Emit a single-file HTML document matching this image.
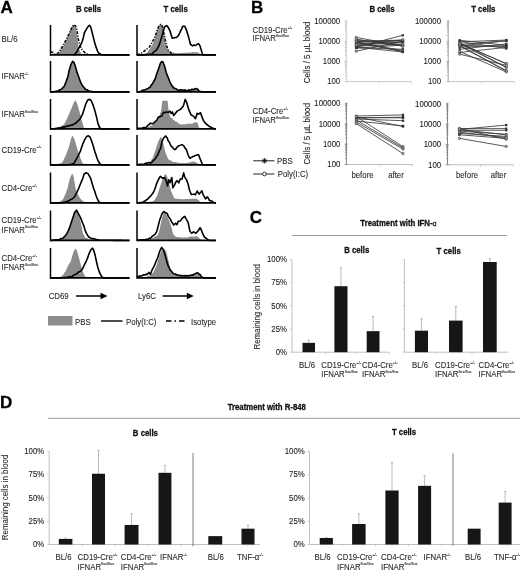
<!DOCTYPE html>
<html><head><meta charset="utf-8"><style>
html,body{margin:0;padding:0;background:#fff;}
svg{display:block;font-family:"Liberation Sans", sans-serif;filter:blur(0.3px);}
text{stroke:currentColor;stroke-width:0.1px;}
text[font-weight="bold"]{stroke-width:0.28px;}
</style></head><body>
<svg width="520" height="572" viewBox="0 0 520 572">
<rect width="520" height="572" fill="#fff"/>
<text x="0.4" y="12.7" font-size="17" font-weight="bold" text-anchor="start" fill="#000" color="#000" >A</text>
<text x="251.0" y="12.7" font-size="17" font-weight="bold" text-anchor="start" fill="#000" color="#000" >B</text>
<text x="249.8" y="222.5" font-size="17" font-weight="bold" text-anchor="start" fill="#000" color="#000" >C</text>
<text x="0.0" y="408.2" font-size="17" font-weight="bold" text-anchor="start" fill="#000" color="#000" >D</text>
<text transform="translate(88.5,12) scale(0.91,1)" font-size="8.56" font-weight="bold" text-anchor="middle" fill="#111" color="#111" >B cells</text>
<text transform="translate(175.6,12) scale(0.91,1)" font-size="8.56" font-weight="bold" text-anchor="middle" fill="#111" color="#111" >T cells</text>
<text transform="translate(1.5,42) scale(0.92,1)" font-size="8.50" font-weight="normal" text-anchor="start" fill="#2a2a2a" color="#2a2a2a" >BL/6</text>
<text transform="translate(1.5,79) scale(0.92,1)" font-size="8.50" font-weight="normal" text-anchor="start" fill="#2a2a2a" color="#2a2a2a" >IFNAR<tspan font-size="4.2" dy="-4.2">-/-</tspan></text>
<text transform="translate(1.5,117) scale(0.92,1)" font-size="8.50" font-weight="normal" text-anchor="start" fill="#2a2a2a" color="#2a2a2a" >IFNAR<tspan font-size="4.2" dy="-4.2">flox/flox</tspan></text>
<text transform="translate(1.5,152.6) scale(0.92,1)" font-size="8.50" font-weight="normal" text-anchor="start" fill="#2a2a2a" color="#2a2a2a" >CD19-Cre<tspan font-size="4.2" dy="-4.2">+/-</tspan></text>
<text transform="translate(1.5,191) scale(0.92,1)" font-size="8.50" font-weight="normal" text-anchor="start" fill="#2a2a2a" color="#2a2a2a" >CD4-Cre<tspan font-size="4.2" dy="-4.2">+/-</tspan></text>
<text transform="translate(1.5,223.4) scale(0.92,1)" font-size="8.50" font-weight="normal" text-anchor="start" fill="#2a2a2a" color="#2a2a2a" >CD19-Cre<tspan font-size="4.2" dy="-4.2">+/-</tspan></text>
<text transform="translate(1.5,232.5) scale(0.92,1)" font-size="8.50" font-weight="normal" text-anchor="start" fill="#2a2a2a" color="#2a2a2a" >IFNAR<tspan font-size="4.2" dy="-4.2">flox/flox</tspan></text>
<text transform="translate(1.5,261) scale(0.92,1)" font-size="8.50" font-weight="normal" text-anchor="start" fill="#2a2a2a" color="#2a2a2a" >CD4-Cre<tspan font-size="4.2" dy="-4.2">+/-</tspan></text>
<text transform="translate(1.5,270) scale(0.92,1)" font-size="8.50" font-weight="normal" text-anchor="start" fill="#2a2a2a" color="#2a2a2a" >IFNAR<tspan font-size="4.2" dy="-4.2">flox/flox</tspan></text>
<polygon points="50.50,55.00 51.60,54.90 52.70,54.80 53.80,54.70 54.90,54.60 56.00,54.50 57.25,53.88 58.50,53.26 59.75,51.86 61.00,49.70 62.25,48.03 63.50,45.91 64.75,43.19 66.00,41.01 67.25,37.68 68.50,34.95 69.50,31.95 70.50,29.21 71.65,27.00 72.80,24.83 74.50,25.24 76.00,28.81 77.00,35.09 78.00,42.81 79.00,49.05 80.50,52.43 82.00,54.33 83.00,54.50 84.00,55.00" fill="#8c8c8c" stroke="none"/>
<polyline points="50.50,52.50 51.50,52.00 53.00,52.50 54.50,54.00 57.00,54.00 60.40,50.00 63.00,45.50 65.60,40.70 67.70,36.50 69.70,32.40 71.80,28.00 73.90,24.60 75.50,26.00 76.50,28.20 77.30,32.50 78.00,37.60 79.00,42.00 80.00,45.90 82.00,49.50 84.30,52.10 86.30,53.70 88.00,54.50" fill="none" stroke="#111" stroke-width="1.6" stroke-dasharray="3,1.4,1.2,1.4"/>
<polyline points="73.00,55.00 74.00,54.60 75.00,54.20 76.00,52.58 77.00,51.72 78.00,49.62 79.00,47.79 80.50,45.27 82.20,41.59 83.30,37.69 84.30,33.21 85.30,31.05 86.30,29.38 87.40,27.42 88.40,26.23 89.50,25.34 90.30,26.24 91.00,28.02 91.80,31.11 92.60,34.46 93.60,38.39 94.70,42.85 95.70,45.97 96.70,48.88 97.80,51.68 98.80,53.32 99.85,53.65 100.90,54.40 101.95,54.70 103.00,55.00 104.02,55.00 105.04,55.00 106.06,55.00 107.08,55.00 108.10,55.00 109.12,55.00 110.13,55.00 111.15,55.00 112.17,55.00 113.19,55.00 114.21,55.00 115.23,55.00 116.25,55.00 117.27,55.00 118.29,55.00 119.31,55.00 120.33,55.00 121.35,55.00 122.37,55.00 123.38,55.00 124.40,55.00 125.42,55.00 126.44,55.00 127.46,55.00 128.48,55.00 129.50,55.00" fill="none" stroke="#000" stroke-width="1.6" stroke-linejoin="round"/>
<line x1="50.5" y1="25" x2="50.5" y2="55.8" stroke="#000" stroke-width="1.5"/>
<line x1="50.5" y1="54.9" x2="129.5" y2="54.9" stroke="#000" stroke-width="1.9"/>
<polygon points="137.00,55.00 138.00,54.92 139.00,54.83 140.00,54.75 141.00,54.67 142.00,54.58 143.00,54.50 144.10,53.95 145.20,53.32 146.30,52.96 147.40,52.26 148.70,50.15 150.00,48.84 151.30,46.38 152.60,44.74 154.20,40.18 155.70,35.26 157.00,30.99 158.30,26.88 159.80,24.72 160.85,25.04 161.90,25.15 163.50,30.56 164.20,34.87 165.00,40.84 166.00,45.07 167.10,49.06 168.13,50.00 169.17,51.30 170.20,52.41 171.40,52.31 172.60,52.66 173.80,52.47 175.00,53.14 176.00,53.10 177.00,53.35 178.00,53.23 179.00,52.85 180.00,52.92 181.00,53.12 182.00,52.67 183.00,52.97 184.00,52.77 185.00,52.73 186.00,52.59 187.00,52.99 188.00,52.44 189.00,52.42 190.00,52.42 191.00,52.66 192.00,52.01 193.00,52.14 194.00,52.08 195.00,52.19 196.00,52.02 197.00,52.40 198.00,52.34 199.00,53.19 200.00,53.90 201.00,55.00" fill="#8c8c8c" stroke="none"/>
<polyline points="137.00,54.50 140.00,54.00 143.20,52.10 146.00,49.50 149.50,46.90 151.50,43.50 153.60,39.70 155.00,36.50 156.20,33.40 157.50,29.50 158.80,26.20 160.90,24.10 162.40,26.20 163.50,31.00 164.50,36.50 165.50,41.00 166.60,45.90 168.20,50.00 171.30,53.20 174.00,54.50" fill="none" stroke="#111" stroke-width="1.6" stroke-dasharray="3,1.4,1.2,1.4"/>
<polyline points="137.00,55.00 138.00,54.98 139.00,54.95 140.00,54.92 141.00,54.90 142.00,54.88 143.00,54.85 144.00,54.82 145.00,54.80 146.00,54.68 147.00,54.56 148.00,54.44 149.00,54.32 150.00,54.20 151.30,54.08 152.60,53.66 153.62,52.05 154.65,51.28 155.67,50.53 156.70,49.73 158.00,47.38 159.30,44.89 160.35,41.46 161.40,38.10 163.00,32.32 164.50,27.07 165.55,26.22 166.60,25.55 168.20,27.39 169.20,29.27 170.20,31.42 171.25,35.13 172.30,38.15 173.90,38.00 175.20,37.58 176.50,37.37 177.50,36.55 178.50,35.39 179.55,33.30 180.60,30.90 181.65,29.13 182.70,26.26 183.75,26.27 184.80,26.41 185.80,28.66 186.80,31.14 187.85,34.50 188.90,38.10 190.50,44.45 191.50,45.00 192.50,45.86 194.00,45.03 195.00,45.62 196.00,45.11 197.30,44.15 198.60,43.75 200.00,45.85 201.35,50.36 202.70,55.00 203.72,55.00 204.75,55.00 205.77,55.00 206.79,55.00 207.82,55.00 208.84,55.00 209.86,55.00 210.88,55.00 211.91,55.00 212.93,55.00 213.95,55.00 214.98,55.00 216.00,55.00" fill="none" stroke="#000" stroke-width="1.6" stroke-linejoin="round"/>
<line x1="137" y1="25" x2="137" y2="55.8" stroke="#000" stroke-width="1.5"/>
<line x1="137" y1="54.9" x2="216" y2="54.9" stroke="#000" stroke-width="1.9"/>
<polygon points="50.50,92.00 51.62,91.88 52.75,91.75 53.88,91.62 55.00,91.50 56.00,90.90 57.00,91.08 58.00,90.85 59.00,90.14 60.00,89.82 61.00,89.21 62.00,88.39 63.00,87.72 64.00,86.84 65.00,84.73 66.00,81.76 67.00,78.67 68.00,76.32 69.00,71.02 70.00,67.25 71.00,64.03 72.60,60.67 74.00,62.52 75.50,67.33 77.00,72.75 78.00,75.39 79.00,77.83 80.00,80.41 81.00,82.77 82.25,85.19 83.50,87.02 84.75,88.45 86.00,89.38 87.00,89.73 88.00,90.57 89.00,91.11 90.00,91.20 91.00,91.36 92.00,91.52 93.00,91.68 94.00,91.84 95.00,92.00" fill="#8c8c8c" stroke="none"/>
<polyline points="50.50,92.00 51.62,91.88 52.75,91.75 53.88,91.62 55.00,91.50 56.00,91.38 57.00,91.02 58.00,90.69 59.00,90.31 60.00,89.67 61.00,89.51 62.00,88.58 63.00,87.55 64.00,86.72 65.00,84.37 66.00,81.86 67.00,79.12 68.00,76.27 69.00,70.97 70.00,67.76 71.00,64.29 72.60,61.27 74.00,62.42 75.50,66.83 77.00,72.34 78.00,75.07 79.00,77.82 80.00,80.57 81.00,83.24 82.25,85.20 83.50,86.99 84.75,88.34 86.00,89.68 87.00,89.68 88.00,90.45 89.00,91.02 90.00,91.20 91.00,91.36 92.00,91.52 93.00,91.68 94.00,91.84 95.00,92.00 96.01,92.00 97.03,92.00 98.04,92.00 99.06,92.00 100.07,92.00 101.09,92.00 102.10,92.00 103.12,92.00 104.13,92.00 105.15,92.00 106.16,92.00 107.18,92.00 108.19,92.00 109.21,92.00 110.22,92.00 111.24,92.00 112.25,92.00 113.26,92.00 114.28,92.00 115.29,92.00 116.31,92.00 117.32,92.00 118.34,92.00 119.35,92.00 120.37,92.00 121.38,92.00 122.40,92.00 123.41,92.00 124.43,92.00 125.44,92.00 126.46,92.00 127.47,92.00 128.49,92.00 129.50,92.00" fill="none" stroke="#000" stroke-width="1.6" stroke-linejoin="round"/>
<line x1="50.5" y1="61" x2="50.5" y2="92.8" stroke="#000" stroke-width="1.5"/>
<line x1="50.5" y1="91.9" x2="129.5" y2="91.9" stroke="#000" stroke-width="1.9"/>
<polygon points="137.00,92.00 138.00,91.83 139.00,91.67 140.00,91.50 141.23,91.20 142.47,90.68 143.70,89.98 144.80,89.44 145.90,89.54 147.00,88.88 148.00,88.54 149.00,88.00 150.00,86.93 151.00,85.60 152.00,84.65 153.00,83.16 154.00,80.77 155.00,78.74 156.00,75.76 157.00,73.28 158.00,70.21 159.00,66.75 160.50,63.23 161.80,61.84 163.00,62.11 164.50,65.90 166.30,72.53 168.00,76.74 169.00,79.16 170.00,82.33 171.00,83.85 172.00,85.52 173.20,87.05 174.40,87.95 175.60,88.93 176.80,89.56 178.00,89.80 179.00,89.90 180.00,90.00 181.00,90.03 182.00,90.35 183.00,90.19 184.00,90.37 185.00,90.24 186.00,90.69 187.00,90.20 188.00,90.17 189.00,90.16 190.00,90.28 191.00,89.69 192.00,89.79 193.00,89.25 194.00,89.02 195.00,88.77 196.00,88.16 197.00,88.96 198.00,89.28 199.00,90.15 200.00,91.50 201.00,91.62 202.00,91.75 203.00,91.88 204.00,92.00" fill="#8c8c8c" stroke="none"/>
<polyline points="137.00,92.00 138.00,91.83 139.00,91.67 140.00,91.50 141.23,91.30 142.47,90.17 143.70,89.97 144.80,89.89 145.90,89.39 147.00,88.83 148.00,88.35 149.00,87.72 150.00,87.28 151.00,85.27 152.00,84.39 153.00,82.75 154.00,80.78 155.00,79.27 156.00,76.01 157.00,73.06 158.00,70.26 159.00,67.41 160.50,62.94 161.80,61.61 163.00,62.01 164.50,66.01 166.30,72.69 168.00,76.95 169.00,79.53 170.00,81.98 171.00,84.19 172.00,85.70 173.20,87.13 174.40,88.44 175.60,88.43 176.80,89.39 178.00,90.44 179.00,90.41 180.00,89.78 181.00,89.84 182.00,90.23 183.00,89.93 184.00,90.17 185.00,90.07 186.00,90.57 187.00,90.58 188.00,90.60 189.00,89.75 190.00,90.22 191.00,89.91 192.00,89.14 193.00,89.63 194.00,89.47 195.00,88.47 196.00,88.95 197.00,88.90 198.00,89.49 199.00,90.99 200.00,91.50 201.00,91.62 202.00,91.75 203.00,91.88 204.00,92.00 205.00,92.00 206.00,92.00 207.00,92.00 208.00,92.00 209.00,92.00 210.00,92.00 211.00,92.00 212.00,92.00 213.00,92.00 214.00,92.00 215.00,92.00 216.00,92.00" fill="none" stroke="#000" stroke-width="1.6" stroke-linejoin="round"/>
<line x1="137" y1="61" x2="137" y2="92.8" stroke="#000" stroke-width="1.5"/>
<line x1="137" y1="91.9" x2="216" y2="91.9" stroke="#000" stroke-width="1.9"/>
<polygon points="50.50,129.00 51.62,128.75 52.75,128.50 53.88,128.25 55.00,128.23 56.00,127.56 57.00,127.55 58.00,127.41 59.00,127.09 60.00,126.79 61.05,126.20 62.10,125.81 63.15,124.64 64.20,124.34 65.60,121.61 67.00,118.66 68.00,116.38 69.00,114.09 70.60,110.51 72.50,105.70 74.00,102.34 75.50,100.20 77.00,103.33 78.25,107.22 79.50,111.84 80.50,115.18 81.50,119.20 83.00,124.84 84.30,128.50 86.00,129.00" fill="#8c8c8c" stroke="none"/>
<polyline points="50.50,129.00 51.60,128.90 52.70,128.80 53.80,128.70 54.90,128.60 56.00,128.50 57.00,128.33 58.00,127.94 59.00,127.95 60.00,128.08 61.00,127.86 62.00,127.36 63.00,127.04 64.00,127.25 65.00,126.79 66.00,126.62 67.00,126.00 68.00,125.73 69.00,125.86 70.00,125.46 71.00,124.99 72.00,125.26 73.00,124.58 74.00,124.18 75.00,123.25 76.00,123.21 77.08,121.64 78.15,121.02 79.22,119.67 80.30,118.50 81.40,116.33 82.50,114.26 84.30,108.86 85.50,104.78 86.80,101.72 88.00,99.84 89.70,99.37 91.00,100.30 92.00,102.48 93.00,104.82 94.80,110.39 96.50,116.88 98.00,123.66 99.50,127.37 101.30,129.00 102.31,129.00 103.31,129.00 104.32,129.00 105.33,129.00 106.34,129.00 107.34,129.00 108.35,129.00 109.36,129.00 110.36,129.00 111.37,129.00 112.38,129.00 113.39,129.00 114.39,129.00 115.40,129.00 116.41,129.00 117.41,129.00 118.42,129.00 119.43,129.00 120.44,129.00 121.44,129.00 122.45,129.00 123.46,129.00 124.46,129.00 125.47,129.00 126.48,129.00 127.49,129.00 128.49,129.00 129.50,129.00" fill="none" stroke="#000" stroke-width="1.6" stroke-linejoin="round"/>
<line x1="50.5" y1="99" x2="50.5" y2="129.8" stroke="#000" stroke-width="1.5"/>
<line x1="50.5" y1="128.9" x2="129.5" y2="128.9" stroke="#000" stroke-width="1.9"/>
<polygon points="137.00,129.00 138.00,128.93 139.00,128.87 140.00,128.80 141.00,128.73 142.00,128.67 143.00,128.60 144.10,128.38 145.20,128.15 146.30,127.70 147.40,127.59 148.44,126.82 149.48,126.45 150.52,125.74 151.56,125.70 152.60,125.04 153.62,123.78 154.65,122.98 155.67,122.30 156.70,120.72 157.75,119.12 158.80,116.75 159.85,114.20 160.90,111.83 161.70,105.93 162.40,100.70 163.70,100.73 165.00,100.84 166.30,100.49 167.60,100.93 168.20,106.54 168.70,111.70 170.20,116.73 171.23,117.73 172.27,118.55 173.30,119.64 174.37,120.30 175.43,121.47 176.50,121.83 177.53,122.43 178.57,123.04 179.60,124.24 180.68,124.41 181.75,124.42 182.82,124.30 183.90,124.42 185.05,124.23 186.20,124.12 187.35,123.69 188.50,123.66 189.65,123.41 190.80,123.77 191.95,123.66 193.10,123.23 194.50,122.37 195.90,122.23 197.70,122.67 198.60,126.40 199.50,128.30 200.50,129.00" fill="#8c8c8c" stroke="none"/>
<polyline points="137.00,128.20 138.04,128.20 139.08,128.20 140.12,128.20 141.16,128.20 142.20,128.20 143.22,127.60 144.25,127.62 145.28,127.43 146.30,127.20 147.60,125.69 148.90,124.60 150.50,123.15 151.55,123.58 152.60,123.71 153.65,123.18 154.70,122.18 155.70,121.12 156.70,120.26 158.30,117.11 159.80,116.86 160.85,116.27 161.90,115.88 163.50,112.21 165.00,112.75 166.60,111.87 168.20,112.52 169.70,110.98 171.30,113.44 172.30,111.85 173.70,115.56 175.50,113.20 177.40,110.88 179.20,110.13 181.10,108.77 182.25,107.19 183.40,105.86 185.20,99.42 186.60,102.25 188.00,107.12 189.40,111.20 191.20,115.13 192.35,115.61 193.50,116.13 195.40,118.66 197.20,113.37 198.60,114.13 200.50,112.74 201.90,116.61 203.20,120.17 205.10,122.94 206.50,124.25 207.90,125.22 209.25,126.44 210.60,126.94 211.83,127.62 213.07,128.26 214.30,128.80 216.00,129.00" fill="none" stroke="#000" stroke-width="1.6" stroke-linejoin="round"/>
<line x1="137" y1="99" x2="137" y2="129.8" stroke="#000" stroke-width="1.5"/>
<line x1="137" y1="128.9" x2="216" y2="128.9" stroke="#000" stroke-width="1.9"/>
<polygon points="50.50,165.00 51.60,164.90 52.70,164.80 53.80,164.70 54.90,164.60 56.00,164.50 57.00,164.25 58.00,164.13 59.00,163.74 60.00,163.15 61.25,162.96 62.50,162.17 63.75,159.50 65.00,157.02 66.20,154.31 67.40,151.10 68.45,148.37 69.50,144.83 71.00,138.70 72.60,135.84 74.00,138.16 75.15,141.29 76.30,145.17 78.00,151.33 79.15,154.40 80.30,157.72 82.00,161.99 83.15,163.38 84.30,164.50 86.00,165.00" fill="#8c8c8c" stroke="none"/>
<polyline points="50.50,165.00 51.54,165.00 52.57,165.00 53.61,165.00 54.64,165.00 55.68,165.00 56.71,165.00 57.75,165.00 58.79,165.00 59.82,165.00 60.86,165.00 61.89,165.00 62.93,165.00 63.96,165.00 65.00,165.00 66.00,164.90 67.00,164.80 68.00,164.70 69.00,164.60 70.00,164.50 71.27,164.33 72.53,163.90 73.80,163.59 74.90,161.50 76.00,159.79 77.00,157.85 78.00,156.15 79.15,153.58 80.30,151.44 81.40,147.91 82.50,144.74 83.50,142.36 84.50,140.10 85.50,138.37 86.50,136.61 88.40,135.87 90.00,137.01 91.00,139.48 92.00,141.98 93.40,146.47 94.80,151.64 95.90,154.52 97.00,158.29 98.35,161.26 99.70,163.71 100.85,164.50 102.00,165.00 103.02,165.00 104.04,165.00 105.06,165.00 106.07,165.00 107.09,165.00 108.11,165.00 109.13,165.00 110.15,165.00 111.17,165.00 112.19,165.00 113.20,165.00 114.22,165.00 115.24,165.00 116.26,165.00 117.28,165.00 118.30,165.00 119.31,165.00 120.33,165.00 121.35,165.00 122.37,165.00 123.39,165.00 124.41,165.00 125.43,165.00 126.44,165.00 127.46,165.00 128.48,165.00 129.50,165.00" fill="none" stroke="#000" stroke-width="1.6" stroke-linejoin="round"/>
<line x1="50.5" y1="135" x2="50.5" y2="165.8" stroke="#000" stroke-width="1.5"/>
<line x1="50.5" y1="164.9" x2="129.5" y2="164.9" stroke="#000" stroke-width="1.9"/>
<polygon points="137.00,165.00 138.00,164.94 139.00,164.88 140.00,164.81 141.00,164.75 142.00,164.69 143.00,164.62 144.00,164.56 145.00,164.50 146.12,164.15 147.25,164.07 148.38,163.85 149.50,163.16 150.53,161.30 151.57,159.53 152.60,158.31 154.20,153.80 155.70,149.76 157.00,145.25 158.30,141.32 159.35,139.57 160.40,136.94 161.90,138.42 163.50,144.51 165.00,150.97 166.05,153.99 167.10,156.81 168.15,158.78 169.20,159.99 170.22,160.19 171.25,160.70 172.28,161.57 173.30,162.07 174.42,162.11 175.53,162.15 176.65,162.44 177.77,162.57 178.88,163.09 180.00,162.65 181.00,163.15 182.00,163.19 183.00,162.66 184.00,163.20 185.00,163.02 186.00,163.13 187.00,162.68 188.00,162.71 189.00,162.40 190.00,162.50 191.00,161.89 192.00,161.40 193.00,161.62 194.00,161.68 195.00,161.68 196.20,162.39 197.40,163.57 198.60,163.85 200.00,165.00" fill="#8c8c8c" stroke="none"/>
<polyline points="137.00,164.60 138.00,164.53 139.00,164.47 140.00,164.40 141.00,164.33 142.00,164.27 143.00,164.20 144.10,164.47 145.20,163.40 146.30,163.17 147.40,163.21 148.43,162.55 149.45,162.50 150.47,162.92 151.50,162.56 152.57,161.44 153.63,160.19 154.70,159.50 155.73,158.13 156.77,156.26 157.80,155.06 159.10,151.16 160.40,148.88 161.90,142.34 163.50,138.00 164.55,137.12 165.60,135.94 167.10,137.66 168.15,140.81 169.20,141.95 170.25,144.42 171.30,146.31 172.30,147.06 173.30,148.39 174.35,149.47 175.40,149.41 177.00,147.29 178.30,146.06 179.60,145.57 180.65,145.12 181.70,144.60 182.70,145.09 183.70,145.65 184.75,147.79 185.80,148.60 186.85,150.86 187.90,154.29 188.95,156.75 190.00,158.44 191.00,157.57 192.00,157.13 193.00,156.51 194.00,156.31 195.00,155.51 196.20,155.22 197.40,154.78 198.60,154.68 200.00,158.46 201.35,161.80 202.70,165.00 203.72,165.00 204.75,165.00 205.77,165.00 206.79,165.00 207.82,165.00 208.84,165.00 209.86,165.00 210.88,165.00 211.91,165.00 212.93,165.00 213.95,165.00 214.98,165.00 216.00,165.00" fill="none" stroke="#000" stroke-width="1.6" stroke-linejoin="round"/>
<line x1="137" y1="135" x2="137" y2="165.8" stroke="#000" stroke-width="1.5"/>
<line x1="137" y1="164.9" x2="216" y2="164.9" stroke="#000" stroke-width="1.9"/>
<polygon points="50.50,203.00 51.57,202.93 52.64,202.86 53.71,202.79 54.79,202.71 55.86,202.64 56.93,202.57 58.00,202.50 59.00,201.94 60.00,201.44 61.00,201.02 62.15,199.91 63.30,198.89 64.40,196.19 65.50,193.84 67.40,188.73 69.00,181.74 70.50,177.00 72.20,173.59 73.50,176.25 74.50,181.80 75.50,188.24 77.00,192.82 78.25,195.08 79.50,197.26 80.75,198.97 82.00,200.24 83.15,201.26 84.30,201.67 86.00,203.00" fill="#8c8c8c" stroke="none"/>
<polyline points="50.50,203.00 51.55,203.00 52.60,203.00 53.65,203.00 54.70,203.00 55.75,203.00 56.80,203.00 57.85,203.00 58.90,203.00 59.95,203.00 61.00,203.00 62.00,202.80 63.00,202.60 64.00,202.40 65.00,202.20 66.00,201.72 67.03,201.63 68.07,201.24 69.10,200.48 70.13,200.05 71.17,199.20 72.20,198.93 73.60,197.76 75.00,196.20 76.23,193.68 77.47,191.22 78.70,188.25 80.50,183.77 81.60,181.14 82.70,178.71 84.00,174.11 85.00,173.56 86.00,172.73 87.00,173.14 88.00,173.66 89.40,176.07 90.80,178.73 92.50,184.72 93.65,188.47 94.80,191.44 95.90,195.05 97.00,198.09 98.90,201.88 99.95,202.50 101.00,203.00 102.02,203.00 103.04,203.00 104.05,203.00 105.07,203.00 106.09,203.00 107.11,203.00 108.12,203.00 109.14,203.00 110.16,203.00 111.18,203.00 112.20,203.00 113.21,203.00 114.23,203.00 115.25,203.00 116.27,203.00 117.29,203.00 118.30,203.00 119.32,203.00 120.34,203.00 121.36,203.00 122.38,203.00 123.39,203.00 124.41,203.00 125.43,203.00 126.45,203.00 127.46,203.00 128.48,203.00 129.50,203.00" fill="none" stroke="#000" stroke-width="1.6" stroke-linejoin="round"/>
<line x1="50.5" y1="172.5" x2="50.5" y2="203.8" stroke="#000" stroke-width="1.5"/>
<line x1="50.5" y1="202.9" x2="129.5" y2="202.9" stroke="#000" stroke-width="1.9"/>
<polygon points="137.00,203.00 138.00,202.95 139.00,202.91 140.00,202.86 141.00,202.82 142.00,202.77 143.00,202.73 144.00,202.68 145.00,202.64 146.00,202.59 147.00,202.55 148.00,202.50 149.00,202.25 150.00,201.74 151.00,201.58 152.00,201.60 153.35,200.99 154.70,199.93 155.85,197.80 157.00,196.02 158.00,193.06 159.00,189.92 160.00,186.81 161.00,184.07 162.00,180.91 163.00,178.36 164.50,174.97 165.60,174.02 167.00,176.10 168.50,181.27 170.00,186.98 171.30,191.61 172.80,195.32 174.40,198.32 175.70,198.64 177.00,198.87 178.00,198.70 179.00,199.07 180.00,199.23 181.00,199.09 182.00,199.02 183.00,199.34 184.00,199.56 185.00,199.11 186.00,198.90 187.00,199.04 188.00,199.03 189.00,199.14 190.00,198.73 191.00,199.08 192.00,198.97 193.30,198.70 194.60,198.39 195.90,198.83 196.95,198.87 198.00,199.72 199.50,201.11 201.00,203.00" fill="#8c8c8c" stroke="none"/>
<polyline points="137.00,203.00 138.00,202.87 139.00,202.73 140.00,202.60 141.07,202.47 142.13,202.33 143.20,202.20 144.25,201.17 145.30,200.88 146.35,199.69 147.40,199.51 148.43,198.23 149.47,197.09 150.50,196.25 151.55,194.88 152.60,193.55 153.65,192.00 154.70,189.48 155.70,186.55 156.70,183.24 158.30,179.83 159.35,177.78 160.40,176.40 161.40,177.15 162.40,178.20 163.45,178.16 164.50,177.65 166.10,180.61 167.60,186.05 168.70,179.79 170.00,182.75 171.80,177.52 172.80,187.89 174.60,184.92 175.75,182.18 176.90,180.65 178.80,182.79 180.20,179.09 182.00,179.05 183.70,172.90 184.80,177.35 186.60,179.90 188.00,183.67 189.40,189.71 191.20,194.56 193.10,194.32 194.25,194.14 195.40,194.77 197.20,190.99 199.10,194.19 200.50,192.49 201.90,190.79 203.20,194.88 204.35,196.59 205.50,198.88 207.40,196.92 208.55,198.68 209.70,200.76 211.10,200.68 212.50,201.72 213.85,202.40 215.20,203.00 216.00,203.00" fill="none" stroke="#000" stroke-width="1.6" stroke-linejoin="round"/>
<line x1="137" y1="172.5" x2="137" y2="203.8" stroke="#000" stroke-width="1.5"/>
<line x1="137" y1="202.9" x2="216" y2="202.9" stroke="#000" stroke-width="1.9"/>
<polygon points="50.50,240.50 51.57,240.40 52.64,240.30 53.71,240.20 54.79,240.10 55.86,240.00 56.93,239.90 58.00,239.80 59.23,239.69 60.45,239.34 61.67,238.50 62.90,238.17 64.20,236.86 65.50,236.13 66.80,234.33 68.10,231.92 69.40,229.28 70.70,224.89 72.00,220.84 73.30,217.32 74.60,213.08 76.50,210.63 77.50,212.45 78.50,213.67 79.80,218.84 81.00,223.65 81.70,226.88 83.00,233.49 84.30,235.54 85.60,238.01 86.67,237.90 87.73,238.58 88.80,239.28 89.87,239.70 90.93,240.10 92.00,240.50" fill="#8c8c8c" stroke="none"/>
<polyline points="50.50,240.50 51.57,240.37 52.64,240.24 53.71,240.11 54.79,239.99 55.86,239.86 56.93,239.73 58.00,239.87 59.23,239.55 60.45,238.88 61.67,238.48 62.90,238.26 64.20,236.80 65.50,235.56 66.80,233.61 68.10,231.08 69.40,228.14 70.70,224.29 72.00,220.36 73.30,216.41 74.60,212.40 76.50,210.19 77.50,211.97 78.50,213.97 79.75,216.15 81.00,218.82 82.30,222.35 83.60,225.25 84.60,228.39 85.60,231.62 86.90,234.18 88.20,236.30 89.27,237.32 90.33,237.90 91.40,238.59 92.70,238.53 94.00,238.78 95.30,239.16 96.47,239.60 97.65,239.80 98.83,240.00 100.00,240.20 101.02,240.21 102.03,240.22 103.05,240.23 104.07,240.24 105.09,240.25 106.10,240.26 107.12,240.27 108.14,240.28 109.16,240.29 110.17,240.30 111.19,240.31 112.21,240.32 113.22,240.33 114.24,240.34 115.26,240.36 116.28,240.37 117.29,240.38 118.31,240.39 119.33,240.40 120.34,240.41 121.36,240.42 122.38,240.43 123.40,240.44 124.41,240.45 125.43,240.46 126.45,240.47 127.47,240.48 128.48,240.49 129.50,240.50" fill="none" stroke="#000" stroke-width="1.6" stroke-linejoin="round"/>
<line x1="50.5" y1="210.5" x2="50.5" y2="241.3" stroke="#000" stroke-width="1.5"/>
<line x1="50.5" y1="240.4" x2="129.5" y2="240.4" stroke="#000" stroke-width="1.9"/>
<polygon points="137.00,240.50 138.00,240.45 139.00,240.41 140.00,240.36 141.00,240.32 142.00,240.27 143.00,240.23 144.00,240.18 145.00,240.14 146.00,240.09 147.00,240.05 148.00,240.00 149.15,239.70 150.30,239.06 151.45,238.46 152.60,238.14 153.80,237.43 155.00,236.62 156.40,235.92 157.80,235.24 159.20,231.12 160.40,225.43 161.90,218.64 163.50,213.56 165.00,212.75 166.60,215.21 168.20,218.57 169.20,220.79 170.20,223.42 171.80,228.62 172.80,232.76 173.30,234.27 174.35,235.35 175.40,236.48 176.43,236.69 177.47,237.28 178.50,237.11 179.58,236.99 180.66,237.48 181.74,237.45 182.82,237.76 183.90,237.22 184.92,237.38 185.94,237.52 186.96,237.44 187.98,237.39 189.00,236.68 190.03,236.73 191.05,236.48 192.07,236.41 193.10,236.83 194.33,236.42 195.57,236.53 196.80,236.01 198.60,237.76 200.50,239.26 201.90,240.50" fill="#8c8c8c" stroke="none"/>
<polyline points="137.00,240.20 138.04,240.14 139.07,240.07 140.11,240.01 141.15,239.95 142.19,239.89 143.23,239.82 144.26,239.76 145.30,239.70 146.34,239.18 147.38,239.35 148.42,239.20 149.46,238.15 150.50,238.29 151.55,237.26 152.60,235.85 153.90,235.18 155.20,234.18 156.70,231.63 158.30,225.48 159.80,219.59 160.85,217.04 161.90,214.03 162.95,212.56 164.00,211.54 165.60,212.86 167.10,213.42 168.20,216.13 170.00,218.73 171.80,222.07 173.70,225.04 175.50,223.21 176.90,224.64 178.30,221.21 180.20,220.95 182.00,218.63 183.40,217.23 184.80,216.40 186.20,219.18 188.00,222.12 188.90,226.20 189.90,231.33 191.70,233.31 193.50,231.73 194.70,232.66 195.90,233.17 197.70,231.42 198.85,229.73 200.00,227.75 201.40,229.98 202.80,233.93 204.60,237.21 205.75,237.88 206.90,238.86 208.30,239.90 209.70,240.50 210.75,240.50 211.80,240.50 212.85,240.50 213.90,240.50 214.95,240.50 216.00,240.50" fill="none" stroke="#000" stroke-width="1.6" stroke-linejoin="round"/>
<line x1="137" y1="210.5" x2="137" y2="241.3" stroke="#000" stroke-width="1.5"/>
<line x1="137" y1="240.4" x2="216" y2="240.4" stroke="#000" stroke-width="1.9"/>
<polygon points="50.50,278.00 51.60,277.94 52.70,277.88 53.80,277.81 54.90,277.75 56.00,277.69 57.10,277.62 58.20,277.56 59.30,277.50 60.53,276.95 61.77,275.78 63.00,275.22 64.40,272.78 65.80,270.97 66.90,268.32 68.00,265.76 69.30,263.56 70.60,261.84 72.50,255.10 74.00,250.79 75.50,248.51 77.00,251.09 78.50,255.91 79.50,260.00 81.00,265.75 82.70,271.35 84.50,275.51 86.00,277.50 87.00,277.75 88.00,278.00" fill="#8c8c8c" stroke="none"/>
<polyline points="50.50,278.00 51.56,278.00 52.61,278.00 53.67,278.00 54.72,278.00 55.78,278.00 56.83,278.00 57.89,278.00 58.94,278.00 60.00,278.00 61.00,277.92 62.00,277.83 63.00,277.75 64.00,277.67 65.00,277.58 66.00,277.50 67.03,277.30 68.07,277.36 69.10,276.67 70.13,276.69 71.17,276.68 72.20,276.58 73.47,275.35 74.73,274.54 76.00,274.27 77.00,273.62 78.00,272.66 79.00,271.73 80.45,271.16 81.90,269.73 82.95,267.89 84.00,265.57 85.40,262.94 86.80,259.80 87.90,257.17 89.00,253.83 90.00,251.69 91.00,249.71 92.40,248.20 93.50,249.81 95.00,254.83 96.50,261.74 98.00,268.01 99.70,272.93 101.50,276.27 103.00,278.00 104.02,278.00 105.04,278.00 106.06,278.00 107.08,278.00 108.10,278.00 109.12,278.00 110.13,278.00 111.15,278.00 112.17,278.00 113.19,278.00 114.21,278.00 115.23,278.00 116.25,278.00 117.27,278.00 118.29,278.00 119.31,278.00 120.33,278.00 121.35,278.00 122.37,278.00 123.38,278.00 124.40,278.00 125.42,278.00 126.44,278.00 127.46,278.00 128.48,278.00 129.50,278.00" fill="none" stroke="#000" stroke-width="1.6" stroke-linejoin="round"/>
<line x1="50.5" y1="248" x2="50.5" y2="278.8" stroke="#000" stroke-width="1.5"/>
<line x1="50.5" y1="277.9" x2="129.5" y2="277.9" stroke="#000" stroke-width="1.9"/>
<polygon points="137.00,278.00 138.00,277.93 139.00,277.86 140.00,277.79 141.00,277.71 142.00,277.64 143.00,277.57 144.00,277.50 145.13,276.89 146.27,276.79 147.40,276.48 148.43,275.55 149.47,275.58 150.50,275.38 151.53,273.81 152.57,273.30 153.60,271.73 155.20,268.57 156.70,264.84 158.00,260.59 159.30,256.36 160.40,252.94 161.40,250.26 162.45,249.40 163.50,248.81 164.55,249.41 165.60,250.16 167.10,255.07 168.70,261.78 170.20,267.89 171.25,269.76 172.30,272.18 173.35,273.25 174.40,274.07 175.43,274.15 176.45,274.63 177.47,274.65 178.50,274.94 179.58,275.22 180.67,275.05 181.75,275.36 182.83,275.47 183.92,275.21 185.00,275.70 186.00,275.27 187.00,275.68 188.00,275.67 189.00,275.45 190.00,275.09 191.00,275.18 192.00,274.86 193.00,275.04 194.00,274.25 195.27,274.42 196.53,274.18 197.80,273.66 198.90,274.47 200.00,274.79 201.00,276.84 202.00,278.00" fill="#8c8c8c" stroke="none"/>
<polyline points="137.00,276.39 138.00,276.59 139.00,276.42 140.00,275.77 141.07,275.94 142.13,275.77 143.20,274.90 144.25,274.82 145.30,274.83 146.35,274.14 147.40,274.38 148.90,272.44 150.50,274.32 151.55,271.25 152.60,268.90 153.90,266.59 155.20,263.50 156.50,260.43 157.80,257.50 158.80,254.27 159.80,250.98 161.70,247.38 163.50,249.96 165.00,254.71 166.60,260.73 168.20,266.08 169.20,267.67 170.20,270.20 171.50,271.28 172.80,273.12 174.10,273.70 175.40,274.00 176.43,274.73 177.47,274.87 178.50,275.26 179.57,275.63 180.63,275.26 181.70,276.05 182.75,275.79 183.80,275.63 184.85,275.91 185.90,275.54 186.95,276.04 188.00,275.75 189.00,275.46 190.00,275.61 191.00,275.24 192.00,274.91 193.00,275.17 194.25,273.93 195.50,273.72 196.65,272.98 197.80,272.90 198.90,273.99 200.00,274.56 201.90,277.11 202.95,277.50 204.00,278.00 205.00,278.00 206.00,278.00 207.00,278.00 208.00,278.00 209.00,278.00 210.00,278.00 211.00,278.00 212.00,278.00 213.00,278.00 214.00,278.00 215.00,278.00 216.00,278.00" fill="none" stroke="#000" stroke-width="1.6" stroke-linejoin="round"/>
<line x1="137" y1="248" x2="137" y2="278.8" stroke="#000" stroke-width="1.5"/>
<line x1="137" y1="277.9" x2="216" y2="277.9" stroke="#000" stroke-width="1.9"/>
<text transform="translate(48.7,298.8) scale(0.92,1)" font-size="8.50" font-weight="normal" text-anchor="start" fill="#2a2a2a" color="#2a2a2a" >CD69</text>
<text transform="translate(138,298.8) scale(0.92,1)" font-size="8.50" font-weight="normal" text-anchor="start" fill="#2a2a2a" color="#2a2a2a" >Ly6C</text>
<line x1="76" y1="296" x2="102.5" y2="296" stroke="#000" stroke-width="1.5"/>
<polygon points="100.5,292.7 107.5,296 100.5,299.3" fill="#000"/>
<line x1="162.5" y1="296" x2="188.8" y2="296" stroke="#000" stroke-width="1.5"/>
<polygon points="186.8,292.7 193.8,296 186.8,299.3" fill="#000"/>
<rect x="48" y="316" width="24.5" height="9.5" fill="#8c8c8c"/>
<text transform="translate(75,324.5) scale(0.92,1)" font-size="8.50" font-weight="normal" text-anchor="start" fill="#2a2a2a" color="#2a2a2a" >PBS</text>
<line x1="101" y1="321" x2="122.5" y2="321" stroke="#000" stroke-width="1.4"/>
<text transform="translate(126,324.5) scale(0.92,1)" font-size="8.50" font-weight="normal" text-anchor="start" fill="#2a2a2a" color="#2a2a2a" >Poly(I:C)</text>
<line x1="166" y1="321" x2="186" y2="321" stroke="#000" stroke-width="1.4" stroke-dasharray="5.5,3,1.5,3"/>
<text transform="translate(191,324.5) scale(0.92,1)" font-size="8.50" font-weight="normal" text-anchor="start" fill="#2a2a2a" color="#2a2a2a" >Isotype</text>
<text transform="translate(382,12) scale(0.91,1)" font-size="8.56" font-weight="bold" text-anchor="middle" fill="#111" color="#111" >B cells</text>
<text transform="translate(483.3,12) scale(0.91,1)" font-size="8.56" font-weight="bold" text-anchor="middle" fill="#111" color="#111" >T cells</text>
<text transform="translate(252.5,33) scale(0.92,1)" font-size="8.50" font-weight="normal" text-anchor="start" fill="#2a2a2a" color="#2a2a2a" >CD19-Cre<tspan font-size="4.2" dy="-4.2">+/-</tspan></text>
<text transform="translate(252.5,41.3) scale(0.92,1)" font-size="8.50" font-weight="normal" text-anchor="start" fill="#2a2a2a" color="#2a2a2a" >IFNAR<tspan font-size="4.2" dy="-4.2">flox/flox</tspan></text>
<text transform="translate(252.5,113.8) scale(0.92,1)" font-size="8.50" font-weight="normal" text-anchor="start" fill="#2a2a2a" color="#2a2a2a" >CD4-Cre<tspan font-size="4.2" dy="-4.2">+/-</tspan></text>
<text transform="translate(252.5,123) scale(0.92,1)" font-size="8.50" font-weight="normal" text-anchor="start" fill="#2a2a2a" color="#2a2a2a" >IFNAR<tspan font-size="4.2" dy="-4.2">flox/flox</tspan></text>
<line x1="346.2" y1="20.25" x2="346.2" y2="81.6" stroke="#c8c8c8" stroke-width="1"/>
<line x1="346.2" y1="81.6" x2="411.5" y2="81.6" stroke="#c8c8c8" stroke-width="1"/>
<line x1="344.3" y1="81.60" x2="347.5" y2="81.60" stroke="#c8c8c8" stroke-width="0.8"/>
<line x1="344.8" y1="75.54" x2="347.0" y2="75.54" stroke="#c8c8c8" stroke-width="0.8"/>
<line x1="344.8" y1="72.00" x2="347.0" y2="72.00" stroke="#c8c8c8" stroke-width="0.8"/>
<line x1="344.8" y1="69.49" x2="347.0" y2="69.49" stroke="#c8c8c8" stroke-width="0.8"/>
<line x1="344.8" y1="67.54" x2="347.0" y2="67.54" stroke="#c8c8c8" stroke-width="0.8"/>
<line x1="344.8" y1="65.95" x2="347.0" y2="65.95" stroke="#c8c8c8" stroke-width="0.8"/>
<line x1="344.8" y1="64.60" x2="347.0" y2="64.60" stroke="#c8c8c8" stroke-width="0.8"/>
<line x1="344.8" y1="63.43" x2="347.0" y2="63.43" stroke="#c8c8c8" stroke-width="0.8"/>
<line x1="344.8" y1="62.40" x2="347.0" y2="62.40" stroke="#c8c8c8" stroke-width="0.8"/>
<line x1="344.3" y1="61.48" x2="347.5" y2="61.48" stroke="#c8c8c8" stroke-width="0.8"/>
<line x1="344.8" y1="55.43" x2="347.0" y2="55.43" stroke="#c8c8c8" stroke-width="0.8"/>
<line x1="344.8" y1="51.89" x2="347.0" y2="51.89" stroke="#c8c8c8" stroke-width="0.8"/>
<line x1="344.8" y1="49.37" x2="347.0" y2="49.37" stroke="#c8c8c8" stroke-width="0.8"/>
<line x1="344.8" y1="47.42" x2="347.0" y2="47.42" stroke="#c8c8c8" stroke-width="0.8"/>
<line x1="344.8" y1="45.83" x2="347.0" y2="45.83" stroke="#c8c8c8" stroke-width="0.8"/>
<line x1="344.8" y1="44.48" x2="347.0" y2="44.48" stroke="#c8c8c8" stroke-width="0.8"/>
<line x1="344.8" y1="43.32" x2="347.0" y2="43.32" stroke="#c8c8c8" stroke-width="0.8"/>
<line x1="344.8" y1="42.29" x2="347.0" y2="42.29" stroke="#c8c8c8" stroke-width="0.8"/>
<line x1="344.3" y1="41.37" x2="347.5" y2="41.37" stroke="#c8c8c8" stroke-width="0.8"/>
<line x1="344.8" y1="35.31" x2="347.0" y2="35.31" stroke="#c8c8c8" stroke-width="0.8"/>
<line x1="344.8" y1="31.77" x2="347.0" y2="31.77" stroke="#c8c8c8" stroke-width="0.8"/>
<line x1="344.8" y1="29.26" x2="347.0" y2="29.26" stroke="#c8c8c8" stroke-width="0.8"/>
<line x1="344.8" y1="27.31" x2="347.0" y2="27.31" stroke="#c8c8c8" stroke-width="0.8"/>
<line x1="344.8" y1="25.71" x2="347.0" y2="25.71" stroke="#c8c8c8" stroke-width="0.8"/>
<line x1="344.8" y1="24.37" x2="347.0" y2="24.37" stroke="#c8c8c8" stroke-width="0.8"/>
<line x1="344.8" y1="23.20" x2="347.0" y2="23.20" stroke="#c8c8c8" stroke-width="0.8"/>
<line x1="344.8" y1="22.17" x2="347.0" y2="22.17" stroke="#c8c8c8" stroke-width="0.8"/>
<line x1="344.7" y1="21.25" x2="347.4" y2="21.25" stroke="#c8c8c8" stroke-width="0.7"/>
<line x1="378.85" y1="81.6" x2="378.85" y2="83.6" stroke="#c8c8c8" stroke-width="0.7"/>
<line x1="411.5" y1="81.6" x2="411.5" y2="83.6" stroke="#c8c8c8" stroke-width="0.7"/>
<text transform="translate(340.2,24.05) scale(0.92,1)" font-size="8.50" font-weight="normal" text-anchor="end" fill="#222" color="#222" >100000</text>
<text transform="translate(340.2,44.16666666666666) scale(0.92,1)" font-size="8.50" font-weight="normal" text-anchor="end" fill="#222" color="#222" >10000</text>
<text transform="translate(340.2,64.28333333333333) scale(0.92,1)" font-size="8.50" font-weight="normal" text-anchor="end" fill="#222" color="#222" >1000</text>
<text transform="translate(340.2,84.39999999999999) scale(0.92,1)" font-size="8.50" font-weight="normal" text-anchor="end" fill="#222" color="#222" >100</text>
<line x1="356.2" y1="48.07" x2="402.8" y2="45.10" stroke="#3a3a3a" stroke-width="0.85"/>
<rect x="355.05" y="46.92" width="2.3" height="2.3" fill="#333"/>
<rect x="401.65000000000003" y="43.95" width="2.3" height="2.3" fill="#333"/>
<line x1="356.2" y1="46.22" x2="402.8" y2="44.29" stroke="#3a3a3a" stroke-width="0.85"/>
<circle cx="356.2" cy="46.22" r="1.15" fill="#bbb" stroke="#333" stroke-width="0.65"/>
<circle cx="402.8" cy="44.29" r="1.15" fill="#bbb" stroke="#333" stroke-width="0.65"/>
<line x1="356.2" y1="42.61" x2="402.8" y2="51.55" stroke="#3a3a3a" stroke-width="0.85"/>
<rect x="355.05" y="41.46" width="2.3" height="2.3" fill="#333"/>
<rect x="401.65000000000003" y="50.40" width="2.3" height="2.3" fill="#333"/>
<line x1="356.2" y1="51.24" x2="402.8" y2="41.14" stroke="#3a3a3a" stroke-width="0.85"/>
<circle cx="356.2" cy="51.24" r="1.15" fill="#bbb" stroke="#333" stroke-width="0.65"/>
<circle cx="402.8" cy="41.14" r="1.15" fill="#bbb" stroke="#333" stroke-width="0.65"/>
<line x1="356.2" y1="47.77" x2="402.8" y2="49.27" stroke="#3a3a3a" stroke-width="0.85"/>
<rect x="355.05" y="46.62" width="2.3" height="2.3" fill="#333"/>
<rect x="401.65000000000003" y="48.12" width="2.3" height="2.3" fill="#333"/>
<line x1="356.2" y1="37.40" x2="402.8" y2="46.09" stroke="#3a3a3a" stroke-width="0.85"/>
<circle cx="356.2" cy="37.40" r="1.15" fill="#bbb" stroke="#333" stroke-width="0.65"/>
<circle cx="402.8" cy="46.09" r="1.15" fill="#bbb" stroke="#333" stroke-width="0.65"/>
<line x1="356.2" y1="39.65" x2="402.8" y2="46.01" stroke="#3a3a3a" stroke-width="0.85"/>
<rect x="355.05" y="38.50" width="2.3" height="2.3" fill="#333"/>
<rect x="401.65000000000003" y="44.86" width="2.3" height="2.3" fill="#333"/>
<line x1="356.2" y1="42.43" x2="402.8" y2="50.40" stroke="#3a3a3a" stroke-width="0.85"/>
<circle cx="356.2" cy="42.43" r="1.15" fill="#bbb" stroke="#333" stroke-width="0.65"/>
<circle cx="402.8" cy="50.40" r="1.15" fill="#bbb" stroke="#333" stroke-width="0.65"/>
<line x1="356.2" y1="42.49" x2="402.8" y2="40.73" stroke="#3a3a3a" stroke-width="0.85"/>
<rect x="355.05" y="41.34" width="2.3" height="2.3" fill="#333"/>
<rect x="401.65000000000003" y="39.58" width="2.3" height="2.3" fill="#333"/>
<line x1="356.2" y1="44.06" x2="402.8" y2="42.44" stroke="#3a3a3a" stroke-width="0.85"/>
<circle cx="356.2" cy="44.06" r="1.15" fill="#bbb" stroke="#333" stroke-width="0.65"/>
<circle cx="402.8" cy="42.44" r="1.15" fill="#bbb" stroke="#333" stroke-width="0.65"/>
<line x1="356.2" y1="41.97" x2="402.8" y2="51.57" stroke="#3a3a3a" stroke-width="0.85"/>
<rect x="355.05" y="40.82" width="2.3" height="2.3" fill="#333"/>
<rect x="401.65000000000003" y="50.42" width="2.3" height="2.3" fill="#333"/>
<line x1="356.2" y1="40.75" x2="402.8" y2="44.46" stroke="#3a3a3a" stroke-width="0.85"/>
<circle cx="356.2" cy="40.75" r="1.15" fill="#bbb" stroke="#333" stroke-width="0.65"/>
<circle cx="402.8" cy="44.46" r="1.15" fill="#bbb" stroke="#333" stroke-width="0.65"/>
<line x1="356.2" y1="47.18" x2="402.8" y2="52.01" stroke="#3a3a3a" stroke-width="0.85"/>
<rect x="355.05" y="46.03" width="2.3" height="2.3" fill="#333"/>
<rect x="401.65000000000003" y="50.86" width="2.3" height="2.3" fill="#333"/>
<line x1="356.2" y1="39.24" x2="402.8" y2="46.06" stroke="#3a3a3a" stroke-width="0.85"/>
<circle cx="356.2" cy="39.24" r="1.15" fill="#bbb" stroke="#333" stroke-width="0.65"/>
<circle cx="402.8" cy="46.06" r="1.15" fill="#bbb" stroke="#333" stroke-width="0.65"/>
<line x1="356.2" y1="41.30" x2="402.8" y2="40.59" stroke="#3a3a3a" stroke-width="0.85"/>
<rect x="355.05" y="40.15" width="2.3" height="2.3" fill="#333"/>
<rect x="401.65000000000003" y="39.44" width="2.3" height="2.3" fill="#333"/>
<line x1="356.2" y1="41.37" x2="402.8" y2="40.02" stroke="#3a3a3a" stroke-width="0.85"/>
<circle cx="356.2" cy="41.37" r="1.15" fill="#bbb" stroke="#333" stroke-width="0.65"/>
<circle cx="402.8" cy="40.02" r="1.15" fill="#bbb" stroke="#333" stroke-width="0.65"/>
<line x1="356.2" y1="45.86" x2="402.8" y2="41.64" stroke="#3a3a3a" stroke-width="0.85"/>
<rect x="355.05" y="44.71" width="2.3" height="2.3" fill="#333"/>
<rect x="401.65000000000003" y="40.49" width="2.3" height="2.3" fill="#333"/>
<line x1="356.2" y1="45.16" x2="402.8" y2="39.82" stroke="#3a3a3a" stroke-width="0.85"/>
<circle cx="356.2" cy="45.16" r="1.15" fill="#bbb" stroke="#333" stroke-width="0.65"/>
<circle cx="402.8" cy="39.82" r="1.15" fill="#bbb" stroke="#333" stroke-width="0.65"/>
<line x1="356.2" y1="47.42" x2="402.8" y2="35.31" stroke="#3a3a3a" stroke-width="0.85"/>
<rect x="355.05" y="46.27" width="2.3" height="2.3" fill="#333"/>
<rect x="401.65000000000003" y="34.16" width="2.3" height="2.3" fill="#333"/>
<line x1="448.2" y1="20.25" x2="448.2" y2="81.6" stroke="#a8a8a8" stroke-width="1"/>
<line x1="448.2" y1="81.6" x2="514.6" y2="81.6" stroke="#c4c4c4" stroke-width="1"/>
<line x1="446.3" y1="81.60" x2="449.5" y2="81.60" stroke="#a8a8a8" stroke-width="0.8"/>
<line x1="446.8" y1="75.54" x2="449.0" y2="75.54" stroke="#a8a8a8" stroke-width="0.8"/>
<line x1="446.8" y1="72.00" x2="449.0" y2="72.00" stroke="#a8a8a8" stroke-width="0.8"/>
<line x1="446.8" y1="69.49" x2="449.0" y2="69.49" stroke="#a8a8a8" stroke-width="0.8"/>
<line x1="446.8" y1="67.54" x2="449.0" y2="67.54" stroke="#a8a8a8" stroke-width="0.8"/>
<line x1="446.8" y1="65.95" x2="449.0" y2="65.95" stroke="#a8a8a8" stroke-width="0.8"/>
<line x1="446.8" y1="64.60" x2="449.0" y2="64.60" stroke="#a8a8a8" stroke-width="0.8"/>
<line x1="446.8" y1="63.43" x2="449.0" y2="63.43" stroke="#a8a8a8" stroke-width="0.8"/>
<line x1="446.8" y1="62.40" x2="449.0" y2="62.40" stroke="#a8a8a8" stroke-width="0.8"/>
<line x1="446.3" y1="61.48" x2="449.5" y2="61.48" stroke="#a8a8a8" stroke-width="0.8"/>
<line x1="446.8" y1="55.43" x2="449.0" y2="55.43" stroke="#a8a8a8" stroke-width="0.8"/>
<line x1="446.8" y1="51.89" x2="449.0" y2="51.89" stroke="#a8a8a8" stroke-width="0.8"/>
<line x1="446.8" y1="49.37" x2="449.0" y2="49.37" stroke="#a8a8a8" stroke-width="0.8"/>
<line x1="446.8" y1="47.42" x2="449.0" y2="47.42" stroke="#a8a8a8" stroke-width="0.8"/>
<line x1="446.8" y1="45.83" x2="449.0" y2="45.83" stroke="#a8a8a8" stroke-width="0.8"/>
<line x1="446.8" y1="44.48" x2="449.0" y2="44.48" stroke="#a8a8a8" stroke-width="0.8"/>
<line x1="446.8" y1="43.32" x2="449.0" y2="43.32" stroke="#a8a8a8" stroke-width="0.8"/>
<line x1="446.8" y1="42.29" x2="449.0" y2="42.29" stroke="#a8a8a8" stroke-width="0.8"/>
<line x1="446.3" y1="41.37" x2="449.5" y2="41.37" stroke="#a8a8a8" stroke-width="0.8"/>
<line x1="446.8" y1="35.31" x2="449.0" y2="35.31" stroke="#a8a8a8" stroke-width="0.8"/>
<line x1="446.8" y1="31.77" x2="449.0" y2="31.77" stroke="#a8a8a8" stroke-width="0.8"/>
<line x1="446.8" y1="29.26" x2="449.0" y2="29.26" stroke="#a8a8a8" stroke-width="0.8"/>
<line x1="446.8" y1="27.31" x2="449.0" y2="27.31" stroke="#a8a8a8" stroke-width="0.8"/>
<line x1="446.8" y1="25.71" x2="449.0" y2="25.71" stroke="#a8a8a8" stroke-width="0.8"/>
<line x1="446.8" y1="24.37" x2="449.0" y2="24.37" stroke="#a8a8a8" stroke-width="0.8"/>
<line x1="446.8" y1="23.20" x2="449.0" y2="23.20" stroke="#a8a8a8" stroke-width="0.8"/>
<line x1="446.8" y1="22.17" x2="449.0" y2="22.17" stroke="#a8a8a8" stroke-width="0.8"/>
<line x1="446.7" y1="21.25" x2="449.4" y2="21.25" stroke="#a8a8a8" stroke-width="0.7"/>
<line x1="481.4" y1="81.6" x2="481.4" y2="83.6" stroke="#c4c4c4" stroke-width="0.7"/>
<line x1="514.6" y1="81.6" x2="514.6" y2="83.6" stroke="#c4c4c4" stroke-width="0.7"/>
<text transform="translate(441.0,24.05) scale(0.92,1)" font-size="8.50" font-weight="normal" text-anchor="end" fill="#222" color="#222" >100000</text>
<text transform="translate(441.0,44.16666666666666) scale(0.92,1)" font-size="8.50" font-weight="normal" text-anchor="end" fill="#222" color="#222" >10000</text>
<text transform="translate(441.0,64.28333333333333) scale(0.92,1)" font-size="8.50" font-weight="normal" text-anchor="end" fill="#222" color="#222" >1000</text>
<text transform="translate(441.0,84.39999999999999) scale(0.92,1)" font-size="8.50" font-weight="normal" text-anchor="end" fill="#222" color="#222" >100</text>
<line x1="459.7" y1="41.54" x2="506.3" y2="48.49" stroke="#3a3a3a" stroke-width="0.85"/>
<rect x="458.55" y="40.39" width="2.3" height="2.3" fill="#333"/>
<rect x="505.15000000000003" y="47.34" width="2.3" height="2.3" fill="#333"/>
<line x1="459.7" y1="52.45" x2="506.3" y2="47.36" stroke="#3a3a3a" stroke-width="0.85"/>
<rect x="458.55" y="51.30" width="2.3" height="2.3" fill="#333"/>
<rect x="505.15000000000003" y="46.21" width="2.3" height="2.3" fill="#333"/>
<line x1="459.7" y1="40.26" x2="506.3" y2="45.29" stroke="#3a3a3a" stroke-width="0.85"/>
<rect x="458.55" y="39.11" width="2.3" height="2.3" fill="#333"/>
<rect x="505.15000000000003" y="44.14" width="2.3" height="2.3" fill="#333"/>
<line x1="459.7" y1="45.24" x2="506.3" y2="46.57" stroke="#3a3a3a" stroke-width="0.85"/>
<rect x="458.55" y="44.09" width="2.3" height="2.3" fill="#333"/>
<rect x="505.15000000000003" y="45.42" width="2.3" height="2.3" fill="#333"/>
<line x1="459.7" y1="46.99" x2="506.3" y2="45.77" stroke="#3a3a3a" stroke-width="0.85"/>
<rect x="458.55" y="45.84" width="2.3" height="2.3" fill="#333"/>
<rect x="505.15000000000003" y="44.62" width="2.3" height="2.3" fill="#333"/>
<line x1="459.7" y1="49.29" x2="506.3" y2="43.88" stroke="#3a3a3a" stroke-width="0.85"/>
<rect x="458.55" y="48.14" width="2.3" height="2.3" fill="#333"/>
<rect x="505.15000000000003" y="42.73" width="2.3" height="2.3" fill="#333"/>
<line x1="459.7" y1="45.86" x2="506.3" y2="40.86" stroke="#3a3a3a" stroke-width="0.85"/>
<rect x="458.55" y="44.71" width="2.3" height="2.3" fill="#333"/>
<rect x="505.15000000000003" y="39.71" width="2.3" height="2.3" fill="#333"/>
<line x1="459.7" y1="44.43" x2="506.3" y2="40.63" stroke="#3a3a3a" stroke-width="0.85"/>
<rect x="458.55" y="43.28" width="2.3" height="2.3" fill="#333"/>
<rect x="505.15000000000003" y="39.48" width="2.3" height="2.3" fill="#333"/>
<line x1="459.7" y1="41.87" x2="506.3" y2="40.04" stroke="#3a3a3a" stroke-width="0.85"/>
<rect x="458.55" y="40.72" width="2.3" height="2.3" fill="#333"/>
<rect x="505.15000000000003" y="38.89" width="2.3" height="2.3" fill="#333"/>
<line x1="459.7" y1="46.00" x2="506.3" y2="71.07" stroke="#3a3a3a" stroke-width="0.85"/>
<circle cx="459.7" cy="46.00" r="1.15" fill="#bbb" stroke="#333" stroke-width="0.65"/>
<circle cx="506.3" cy="71.07" r="1.15" fill="#bbb" stroke="#333" stroke-width="0.65"/>
<line x1="459.7" y1="43.33" x2="506.3" y2="63.82" stroke="#3a3a3a" stroke-width="0.85"/>
<circle cx="459.7" cy="43.33" r="1.15" fill="#bbb" stroke="#333" stroke-width="0.65"/>
<circle cx="506.3" cy="63.82" r="1.15" fill="#bbb" stroke="#333" stroke-width="0.65"/>
<line x1="459.7" y1="42.71" x2="506.3" y2="67.40" stroke="#3a3a3a" stroke-width="0.85"/>
<circle cx="459.7" cy="42.71" r="1.15" fill="#bbb" stroke="#333" stroke-width="0.65"/>
<circle cx="506.3" cy="67.40" r="1.15" fill="#bbb" stroke="#333" stroke-width="0.65"/>
<line x1="459.7" y1="45.40" x2="506.3" y2="70.64" stroke="#3a3a3a" stroke-width="0.85"/>
<circle cx="459.7" cy="45.40" r="1.15" fill="#bbb" stroke="#333" stroke-width="0.65"/>
<circle cx="506.3" cy="70.64" r="1.15" fill="#bbb" stroke="#333" stroke-width="0.65"/>
<line x1="459.7" y1="43.74" x2="506.3" y2="67.36" stroke="#3a3a3a" stroke-width="0.85"/>
<circle cx="459.7" cy="43.74" r="1.15" fill="#bbb" stroke="#333" stroke-width="0.65"/>
<circle cx="506.3" cy="67.36" r="1.15" fill="#bbb" stroke="#333" stroke-width="0.65"/>
<line x1="459.7" y1="51.44" x2="506.3" y2="71.97" stroke="#3a3a3a" stroke-width="0.85"/>
<circle cx="459.7" cy="51.44" r="1.15" fill="#bbb" stroke="#333" stroke-width="0.65"/>
<circle cx="506.3" cy="71.97" r="1.15" fill="#bbb" stroke="#333" stroke-width="0.65"/>
<line x1="459.7" y1="43.42" x2="506.3" y2="63.59" stroke="#3a3a3a" stroke-width="0.85"/>
<circle cx="459.7" cy="43.42" r="1.15" fill="#bbb" stroke="#333" stroke-width="0.65"/>
<circle cx="506.3" cy="63.59" r="1.15" fill="#bbb" stroke="#333" stroke-width="0.65"/>
<line x1="459.7" y1="54.20" x2="506.3" y2="65.30" stroke="#3a3a3a" stroke-width="0.85"/>
<circle cx="459.7" cy="54.20" r="1.15" fill="#bbb" stroke="#333" stroke-width="0.65"/>
<circle cx="506.3" cy="65.30" r="1.15" fill="#bbb" stroke="#333" stroke-width="0.65"/>
<line x1="346.4" y1="102.5" x2="346.4" y2="164.5" stroke="#858585" stroke-width="1"/>
<line x1="346.4" y1="164.5" x2="412.3" y2="164.5" stroke="#bdbdbd" stroke-width="1"/>
<line x1="344.5" y1="164.50" x2="347.7" y2="164.50" stroke="#858585" stroke-width="0.8"/>
<line x1="345.0" y1="158.38" x2="347.2" y2="158.38" stroke="#858585" stroke-width="0.8"/>
<line x1="345.0" y1="154.80" x2="347.2" y2="154.80" stroke="#858585" stroke-width="0.8"/>
<line x1="345.0" y1="152.26" x2="347.2" y2="152.26" stroke="#858585" stroke-width="0.8"/>
<line x1="345.0" y1="150.29" x2="347.2" y2="150.29" stroke="#858585" stroke-width="0.8"/>
<line x1="345.0" y1="148.68" x2="347.2" y2="148.68" stroke="#858585" stroke-width="0.8"/>
<line x1="345.0" y1="147.32" x2="347.2" y2="147.32" stroke="#858585" stroke-width="0.8"/>
<line x1="345.0" y1="146.14" x2="347.2" y2="146.14" stroke="#858585" stroke-width="0.8"/>
<line x1="345.0" y1="145.10" x2="347.2" y2="145.10" stroke="#858585" stroke-width="0.8"/>
<line x1="344.5" y1="144.17" x2="347.7" y2="144.17" stroke="#858585" stroke-width="0.8"/>
<line x1="345.0" y1="138.05" x2="347.2" y2="138.05" stroke="#858585" stroke-width="0.8"/>
<line x1="345.0" y1="134.47" x2="347.2" y2="134.47" stroke="#858585" stroke-width="0.8"/>
<line x1="345.0" y1="131.92" x2="347.2" y2="131.92" stroke="#858585" stroke-width="0.8"/>
<line x1="345.0" y1="129.95" x2="347.2" y2="129.95" stroke="#858585" stroke-width="0.8"/>
<line x1="345.0" y1="128.34" x2="347.2" y2="128.34" stroke="#858585" stroke-width="0.8"/>
<line x1="345.0" y1="126.98" x2="347.2" y2="126.98" stroke="#858585" stroke-width="0.8"/>
<line x1="345.0" y1="125.80" x2="347.2" y2="125.80" stroke="#858585" stroke-width="0.8"/>
<line x1="345.0" y1="124.76" x2="347.2" y2="124.76" stroke="#858585" stroke-width="0.8"/>
<line x1="344.5" y1="123.83" x2="347.7" y2="123.83" stroke="#858585" stroke-width="0.8"/>
<line x1="345.0" y1="117.71" x2="347.2" y2="117.71" stroke="#858585" stroke-width="0.8"/>
<line x1="345.0" y1="114.13" x2="347.2" y2="114.13" stroke="#858585" stroke-width="0.8"/>
<line x1="345.0" y1="111.59" x2="347.2" y2="111.59" stroke="#858585" stroke-width="0.8"/>
<line x1="345.0" y1="109.62" x2="347.2" y2="109.62" stroke="#858585" stroke-width="0.8"/>
<line x1="345.0" y1="108.01" x2="347.2" y2="108.01" stroke="#858585" stroke-width="0.8"/>
<line x1="345.0" y1="106.65" x2="347.2" y2="106.65" stroke="#858585" stroke-width="0.8"/>
<line x1="345.0" y1="105.47" x2="347.2" y2="105.47" stroke="#858585" stroke-width="0.8"/>
<line x1="345.0" y1="104.43" x2="347.2" y2="104.43" stroke="#858585" stroke-width="0.8"/>
<line x1="344.9" y1="103.50" x2="347.59999999999997" y2="103.50" stroke="#858585" stroke-width="0.7"/>
<line x1="379.35" y1="164.5" x2="379.35" y2="166.5" stroke="#bdbdbd" stroke-width="0.7"/>
<line x1="412.3" y1="164.5" x2="412.3" y2="166.5" stroke="#bdbdbd" stroke-width="0.7"/>
<text transform="translate(340.4,106.3) scale(0.92,1)" font-size="8.50" font-weight="normal" text-anchor="end" fill="#222" color="#222" >100000</text>
<text transform="translate(340.4,126.63333333333333) scale(0.92,1)" font-size="8.50" font-weight="normal" text-anchor="end" fill="#222" color="#222" >10000</text>
<text transform="translate(340.4,146.96666666666667) scale(0.92,1)" font-size="8.50" font-weight="normal" text-anchor="end" fill="#222" color="#222" >1000</text>
<text transform="translate(340.4,167.3) scale(0.92,1)" font-size="8.50" font-weight="normal" text-anchor="end" fill="#222" color="#222" >100</text>
<line x1="356.2" y1="116.00" x2="403" y2="114.90" stroke="#3a3a3a" stroke-width="0.85"/>
<rect x="355.05" y="114.85" width="2.3" height="2.3" fill="#333"/>
<rect x="401.85" y="113.75" width="2.3" height="2.3" fill="#333"/>
<line x1="356.2" y1="117.50" x2="403" y2="117.80" stroke="#3a3a3a" stroke-width="0.85"/>
<rect x="355.05" y="116.35" width="2.3" height="2.3" fill="#333"/>
<rect x="401.85" y="116.65" width="2.3" height="2.3" fill="#333"/>
<line x1="356.2" y1="119.00" x2="403" y2="120.70" stroke="#3a3a3a" stroke-width="0.85"/>
<rect x="355.05" y="117.85" width="2.3" height="2.3" fill="#333"/>
<rect x="401.85" y="119.55" width="2.3" height="2.3" fill="#333"/>
<line x1="356.2" y1="121.00" x2="403" y2="125.90" stroke="#3a3a3a" stroke-width="0.85"/>
<rect x="355.05" y="119.85" width="2.3" height="2.3" fill="#333"/>
<rect x="401.85" y="124.75" width="2.3" height="2.3" fill="#333"/>
<line x1="356.2" y1="118.00" x2="403" y2="117.20" stroke="#3a3a3a" stroke-width="0.85"/>
<rect x="355.05" y="116.85" width="2.3" height="2.3" fill="#333"/>
<rect x="401.85" y="116.05" width="2.3" height="2.3" fill="#333"/>
<line x1="356.2" y1="116.80" x2="403" y2="126.50" stroke="#3a3a3a" stroke-width="0.85"/>
<rect x="355.05" y="115.65" width="2.3" height="2.3" fill="#333"/>
<rect x="401.85" y="125.35" width="2.3" height="2.3" fill="#333"/>
<line x1="356.2" y1="116.50" x2="403" y2="146.60" stroke="#3a3a3a" stroke-width="0.85"/>
<circle cx="356.2" cy="116.50" r="1.15" fill="#bbb" stroke="#333" stroke-width="0.65"/>
<circle cx="403" cy="146.60" r="1.15" fill="#bbb" stroke="#333" stroke-width="0.65"/>
<line x1="356.2" y1="120.00" x2="403" y2="147.80" stroke="#3a3a3a" stroke-width="0.85"/>
<circle cx="356.2" cy="120.00" r="1.15" fill="#bbb" stroke="#333" stroke-width="0.65"/>
<circle cx="403" cy="147.80" r="1.15" fill="#bbb" stroke="#333" stroke-width="0.65"/>
<line x1="356.2" y1="122.00" x2="403" y2="149.20" stroke="#3a3a3a" stroke-width="0.85"/>
<circle cx="356.2" cy="122.00" r="1.15" fill="#bbb" stroke="#333" stroke-width="0.65"/>
<circle cx="403" cy="149.20" r="1.15" fill="#bbb" stroke="#333" stroke-width="0.65"/>
<line x1="356.2" y1="123.60" x2="403" y2="153.60" stroke="#3a3a3a" stroke-width="0.85"/>
<circle cx="356.2" cy="123.60" r="1.15" fill="#bbb" stroke="#333" stroke-width="0.65"/>
<circle cx="403" cy="153.60" r="1.15" fill="#bbb" stroke="#333" stroke-width="0.65"/>
<line x1="447.5" y1="102.8" x2="447.5" y2="164.8" stroke="#858585" stroke-width="1"/>
<line x1="447.5" y1="164.8" x2="513.5" y2="164.8" stroke="#bdbdbd" stroke-width="1"/>
<line x1="445.6" y1="164.80" x2="448.8" y2="164.80" stroke="#858585" stroke-width="0.8"/>
<line x1="446.1" y1="158.68" x2="448.3" y2="158.68" stroke="#858585" stroke-width="0.8"/>
<line x1="446.1" y1="155.10" x2="448.3" y2="155.10" stroke="#858585" stroke-width="0.8"/>
<line x1="446.1" y1="152.56" x2="448.3" y2="152.56" stroke="#858585" stroke-width="0.8"/>
<line x1="446.1" y1="150.59" x2="448.3" y2="150.59" stroke="#858585" stroke-width="0.8"/>
<line x1="446.1" y1="148.98" x2="448.3" y2="148.98" stroke="#858585" stroke-width="0.8"/>
<line x1="446.1" y1="147.62" x2="448.3" y2="147.62" stroke="#858585" stroke-width="0.8"/>
<line x1="446.1" y1="146.44" x2="448.3" y2="146.44" stroke="#858585" stroke-width="0.8"/>
<line x1="446.1" y1="145.40" x2="448.3" y2="145.40" stroke="#858585" stroke-width="0.8"/>
<line x1="445.6" y1="144.47" x2="448.8" y2="144.47" stroke="#858585" stroke-width="0.8"/>
<line x1="446.1" y1="138.35" x2="448.3" y2="138.35" stroke="#858585" stroke-width="0.8"/>
<line x1="446.1" y1="134.77" x2="448.3" y2="134.77" stroke="#858585" stroke-width="0.8"/>
<line x1="446.1" y1="132.22" x2="448.3" y2="132.22" stroke="#858585" stroke-width="0.8"/>
<line x1="446.1" y1="130.25" x2="448.3" y2="130.25" stroke="#858585" stroke-width="0.8"/>
<line x1="446.1" y1="128.64" x2="448.3" y2="128.64" stroke="#858585" stroke-width="0.8"/>
<line x1="446.1" y1="127.28" x2="448.3" y2="127.28" stroke="#858585" stroke-width="0.8"/>
<line x1="446.1" y1="126.10" x2="448.3" y2="126.10" stroke="#858585" stroke-width="0.8"/>
<line x1="446.1" y1="125.06" x2="448.3" y2="125.06" stroke="#858585" stroke-width="0.8"/>
<line x1="445.6" y1="124.13" x2="448.8" y2="124.13" stroke="#858585" stroke-width="0.8"/>
<line x1="446.1" y1="118.01" x2="448.3" y2="118.01" stroke="#858585" stroke-width="0.8"/>
<line x1="446.1" y1="114.43" x2="448.3" y2="114.43" stroke="#858585" stroke-width="0.8"/>
<line x1="446.1" y1="111.89" x2="448.3" y2="111.89" stroke="#858585" stroke-width="0.8"/>
<line x1="446.1" y1="109.92" x2="448.3" y2="109.92" stroke="#858585" stroke-width="0.8"/>
<line x1="446.1" y1="108.31" x2="448.3" y2="108.31" stroke="#858585" stroke-width="0.8"/>
<line x1="446.1" y1="106.95" x2="448.3" y2="106.95" stroke="#858585" stroke-width="0.8"/>
<line x1="446.1" y1="105.77" x2="448.3" y2="105.77" stroke="#858585" stroke-width="0.8"/>
<line x1="446.1" y1="104.73" x2="448.3" y2="104.73" stroke="#858585" stroke-width="0.8"/>
<line x1="446.0" y1="103.80" x2="448.7" y2="103.80" stroke="#858585" stroke-width="0.7"/>
<line x1="480.5" y1="164.8" x2="480.5" y2="166.8" stroke="#bdbdbd" stroke-width="0.7"/>
<line x1="513.5" y1="164.8" x2="513.5" y2="166.8" stroke="#bdbdbd" stroke-width="0.7"/>
<text transform="translate(441.1,106.6) scale(0.92,1)" font-size="8.50" font-weight="normal" text-anchor="end" fill="#222" color="#222" >100000</text>
<text transform="translate(441.1,126.93333333333334) scale(0.92,1)" font-size="8.50" font-weight="normal" text-anchor="end" fill="#222" color="#222" >10000</text>
<text transform="translate(441.1,147.26666666666668) scale(0.92,1)" font-size="8.50" font-weight="normal" text-anchor="end" fill="#222" color="#222" >1000</text>
<text transform="translate(441.1,167.60000000000002) scale(0.92,1)" font-size="8.50" font-weight="normal" text-anchor="end" fill="#222" color="#222" >100</text>
<line x1="459.4" y1="129.41" x2="506.2" y2="125.06" stroke="#3a3a3a" stroke-width="0.85"/>
<rect x="458.25" y="128.26" width="2.3" height="2.3" fill="#333"/>
<rect x="505.05" y="123.91" width="2.3" height="2.3" fill="#333"/>
<line x1="459.4" y1="128.64" x2="506.2" y2="128.64" stroke="#3a3a3a" stroke-width="0.85"/>
<rect x="458.25" y="127.49" width="2.3" height="2.3" fill="#333"/>
<rect x="505.05" y="127.49" width="2.3" height="2.3" fill="#333"/>
<line x1="459.4" y1="130.25" x2="506.2" y2="130.25" stroke="#3a3a3a" stroke-width="0.85"/>
<rect x="458.25" y="129.10" width="2.3" height="2.3" fill="#333"/>
<rect x="505.05" y="129.10" width="2.3" height="2.3" fill="#333"/>
<line x1="459.4" y1="131.18" x2="506.2" y2="134.20" stroke="#3a3a3a" stroke-width="0.85"/>
<rect x="458.25" y="130.03" width="2.3" height="2.3" fill="#333"/>
<rect x="505.05" y="133.05" width="2.3" height="2.3" fill="#333"/>
<line x1="459.4" y1="133.40" x2="506.2" y2="136.38" stroke="#3a3a3a" stroke-width="0.85"/>
<rect x="458.25" y="132.25" width="2.3" height="2.3" fill="#333"/>
<rect x="505.05" y="135.23" width="2.3" height="2.3" fill="#333"/>
<line x1="459.4" y1="134.77" x2="506.2" y2="138.35" stroke="#3a3a3a" stroke-width="0.85"/>
<rect x="458.25" y="133.62" width="2.3" height="2.3" fill="#333"/>
<rect x="505.05" y="137.20" width="2.3" height="2.3" fill="#333"/>
<line x1="459.4" y1="128.64" x2="506.2" y2="139.28" stroke="#3a3a3a" stroke-width="0.85"/>
<circle cx="459.4" cy="128.64" r="1.15" fill="#bbb" stroke="#333" stroke-width="0.65"/>
<circle cx="506.2" cy="139.28" r="1.15" fill="#bbb" stroke="#333" stroke-width="0.65"/>
<line x1="459.4" y1="132.22" x2="506.2" y2="137.50" stroke="#3a3a3a" stroke-width="0.85"/>
<circle cx="459.4" cy="132.22" r="1.15" fill="#bbb" stroke="#333" stroke-width="0.65"/>
<circle cx="506.2" cy="137.50" r="1.15" fill="#bbb" stroke="#333" stroke-width="0.65"/>
<line x1="459.4" y1="129.41" x2="506.2" y2="134.77" stroke="#3a3a3a" stroke-width="0.85"/>
<circle cx="459.4" cy="129.41" r="1.15" fill="#bbb" stroke="#333" stroke-width="0.65"/>
<circle cx="506.2" cy="134.77" r="1.15" fill="#bbb" stroke="#333" stroke-width="0.65"/>
<line x1="459.4" y1="138.35" x2="506.2" y2="146.44" stroke="#3a3a3a" stroke-width="0.85"/>
<circle cx="459.4" cy="138.35" r="1.15" fill="#bbb" stroke="#333" stroke-width="0.65"/>
<circle cx="506.2" cy="146.44" r="1.15" fill="#bbb" stroke="#333" stroke-width="0.65"/>
<text transform="translate(310.1,52.5) rotate(-90) scale(0.93,1)" font-size="8.6" text-anchor="middle" fill="#2a2a2a" color="#2a2a2a">Cells / 5 µL blood</text>
<text transform="translate(310.1,133.8) rotate(-90) scale(0.93,1)" font-size="8.6" text-anchor="middle" fill="#2a2a2a" color="#2a2a2a">Cells / 5 µL blood</text>
<text transform="translate(362.5,177.5) scale(0.92,1)" font-size="8.50" font-weight="normal" text-anchor="middle" fill="#2a2a2a" color="#2a2a2a" >before</text>
<text transform="translate(396,177.5) scale(0.92,1)" font-size="8.50" font-weight="normal" text-anchor="middle" fill="#2a2a2a" color="#2a2a2a" >after</text>
<text transform="translate(467,177.5) scale(0.92,1)" font-size="8.50" font-weight="normal" text-anchor="middle" fill="#2a2a2a" color="#2a2a2a" >before</text>
<text transform="translate(498.5,177.5) scale(0.92,1)" font-size="8.50" font-weight="normal" text-anchor="middle" fill="#2a2a2a" color="#2a2a2a" >after</text>
<line x1="253.3" y1="160.8" x2="274.4" y2="160.8" stroke="#222" stroke-width="1"/>
<g stroke="#111" stroke-width="0.9"><line x1="262.3" y1="158.6" x2="266.7" y2="163"/><line x1="266.7" y1="158.6" x2="262.3" y2="163"/><line x1="264.5" y1="158.1" x2="264.5" y2="163.5"/><line x1="262" y1="160.8" x2="267" y2="160.8"/></g>
<text transform="translate(277,164.3) scale(0.92,1)" font-size="8.50" font-weight="normal" text-anchor="start" fill="#2a2a2a" color="#2a2a2a" >PBS</text>
<line x1="253.3" y1="174" x2="274.4" y2="174" stroke="#222" stroke-width="1"/>
<circle cx="264.4" cy="174" r="1.9" fill="#fff" stroke="#222" stroke-width="0.9"/>
<text transform="translate(277.8,177.3) scale(0.92,1)" font-size="8.50" font-weight="normal" text-anchor="start" fill="#2a2a2a" color="#2a2a2a" >Poly(I:C)</text>
<text transform="translate(398.4,226.3) scale(0.91,1)" font-size="8.56" font-weight="bold" text-anchor="middle" fill="#111" color="#111" >Treatment with IFN-<tspan font-weight="normal" font-size="7.5">α</tspan></text>
<line x1="292" y1="235.5" x2="506.6" y2="235.5" stroke="#9a9a9a" stroke-width="1"/>
<text transform="translate(356.7,253.2) scale(0.91,1)" font-size="8.56" font-weight="bold" text-anchor="middle" fill="#111" color="#111" >B cells</text>
<text transform="translate(448.7,253.6) scale(0.91,1)" font-size="8.56" font-weight="bold" text-anchor="middle" fill="#111" color="#111" >T cells</text>
<text transform="translate(259.9,306.8) rotate(-90) scale(0.93,1)" font-size="8.5" text-anchor="middle" fill="#2a2a2a" color="#2a2a2a">Remaining cells in blood</text>
<line x1="292" y1="259.5" x2="292" y2="352.2" stroke="#c0c0c0" stroke-width="1"/>
<line x1="292" y1="352.2" x2="389.5" y2="352.2" stroke="#c0c0c0" stroke-width="1"/>
<line x1="290" y1="352.20" x2="292" y2="352.20" stroke="#c0c0c0" stroke-width="0.8"/>
<text transform="translate(287,355.0) scale(0.92,1)" font-size="8.50" font-weight="normal" text-anchor="end" fill="#222" color="#222" >0%</text>
<line x1="290" y1="329.02" x2="292" y2="329.02" stroke="#c0c0c0" stroke-width="0.8"/>
<text transform="translate(287,331.825) scale(0.92,1)" font-size="8.50" font-weight="normal" text-anchor="end" fill="#222" color="#222" >25%</text>
<line x1="290" y1="305.85" x2="292" y2="305.85" stroke="#c0c0c0" stroke-width="0.8"/>
<text transform="translate(287,308.65000000000003) scale(0.92,1)" font-size="8.50" font-weight="normal" text-anchor="end" fill="#222" color="#222" >50%</text>
<line x1="290" y1="282.68" x2="292" y2="282.68" stroke="#c0c0c0" stroke-width="0.8"/>
<text transform="translate(287,285.475) scale(0.92,1)" font-size="8.50" font-weight="normal" text-anchor="end" fill="#222" color="#222" >75%</text>
<line x1="290" y1="259.50" x2="292" y2="259.50" stroke="#c0c0c0" stroke-width="0.8"/>
<text transform="translate(287,262.3) scale(0.92,1)" font-size="8.50" font-weight="normal" text-anchor="end" fill="#222" color="#222" >100%</text>
<line x1="308.75" y1="340.06" x2="308.75" y2="342.84" stroke="#aaa" stroke-width="0.8"/>
<line x1="307.55" y1="340.06" x2="309.95" y2="340.06" stroke="#aaa" stroke-width="0.8"/>
<rect x="302.5" y="342.84" width="12.5" height="9.36" fill="#161616"/>
<line x1="340.95" y1="267.66" x2="340.95" y2="286.20" stroke="#aaa" stroke-width="0.8"/>
<line x1="339.75" y1="267.66" x2="342.15" y2="267.66" stroke="#aaa" stroke-width="0.8"/>
<rect x="334.4" y="286.20" width="13.100000000000023" height="66.00" fill="#161616"/>
<line x1="373.1" y1="316.33" x2="373.1" y2="331.16" stroke="#aaa" stroke-width="0.8"/>
<line x1="371.90000000000003" y1="316.33" x2="374.3" y2="316.33" stroke="#aaa" stroke-width="0.8"/>
<rect x="366.7" y="331.16" width="12.800000000000011" height="21.04" fill="#161616"/>
<line x1="404.4" y1="259.5" x2="404.4" y2="352.2" stroke="#c0c0c0" stroke-width="1"/>
<line x1="404.4" y1="352.2" x2="508" y2="352.2" stroke="#c0c0c0" stroke-width="1"/>
<line x1="402.4" y1="352.20" x2="404.4" y2="352.20" stroke="#c0c0c0" stroke-width="0.8"/>
<line x1="402.4" y1="329.02" x2="404.4" y2="329.02" stroke="#c0c0c0" stroke-width="0.8"/>
<line x1="402.4" y1="305.85" x2="404.4" y2="305.85" stroke="#c0c0c0" stroke-width="0.8"/>
<line x1="402.4" y1="282.68" x2="404.4" y2="282.68" stroke="#c0c0c0" stroke-width="0.8"/>
<line x1="402.4" y1="259.50" x2="404.4" y2="259.50" stroke="#c0c0c0" stroke-width="0.8"/>
<line x1="421.45" y1="318.92" x2="421.45" y2="330.69" stroke="#aaa" stroke-width="0.8"/>
<line x1="420.25" y1="318.92" x2="422.65" y2="318.92" stroke="#aaa" stroke-width="0.8"/>
<rect x="414.9" y="330.69" width="13.100000000000023" height="21.51" fill="#161616"/>
<line x1="455.8" y1="306.41" x2="455.8" y2="320.59" stroke="#aaa" stroke-width="0.8"/>
<line x1="454.6" y1="306.41" x2="457.0" y2="306.41" stroke="#aaa" stroke-width="0.8"/>
<rect x="449" y="320.59" width="13.600000000000023" height="31.61" fill="#161616"/>
<line x1="489.85" y1="258.76" x2="489.85" y2="262.00" stroke="#aaa" stroke-width="0.8"/>
<line x1="488.65000000000003" y1="258.76" x2="491.05" y2="258.76" stroke="#aaa" stroke-width="0.8"/>
<rect x="483" y="262.00" width="13.699999999999989" height="90.20" fill="#161616"/>
<line x1="325.5" y1="352.2" x2="325.5" y2="354.2" stroke="#c0c0c0" stroke-width="0.8"/>
<line x1="356.7" y1="352.2" x2="356.7" y2="354.2" stroke="#c0c0c0" stroke-width="0.8"/>
<line x1="389.5" y1="352.2" x2="389.5" y2="354.2" stroke="#c0c0c0" stroke-width="0.8"/>
<line x1="436.7" y1="352.2" x2="436.7" y2="354.2" stroke="#c0c0c0" stroke-width="0.8"/>
<line x1="472" y1="352.2" x2="472" y2="354.2" stroke="#c0c0c0" stroke-width="0.8"/>
<text transform="translate(307,367.6) scale(0.92,1)" font-size="8.50" font-weight="normal" text-anchor="middle" fill="#2a2a2a" color="#2a2a2a" >BL/6</text>
<text transform="translate(321.3,367.8) scale(0.92,1)" font-size="8.50" font-weight="normal" text-anchor="start" fill="#2a2a2a" color="#2a2a2a" >CD19-Cre<tspan font-size="4.2" dy="-4.2">+/-</tspan></text>
<text transform="translate(321.3,377) scale(0.92,1)" font-size="8.50" font-weight="normal" text-anchor="start" fill="#2a2a2a" color="#2a2a2a" >IFNAR<tspan font-size="4.2" dy="-4.2">flox/flox</tspan></text>
<text transform="translate(362,367.8) scale(0.92,1)" font-size="8.50" font-weight="normal" text-anchor="start" fill="#2a2a2a" color="#2a2a2a" >CD4-Cre<tspan font-size="4.2" dy="-4.2">+/-</tspan></text>
<text transform="translate(362,377) scale(0.92,1)" font-size="8.50" font-weight="normal" text-anchor="start" fill="#2a2a2a" color="#2a2a2a" >IFNAR<tspan font-size="4.2" dy="-4.2">flox/flox</tspan></text>
<text transform="translate(420,367.6) scale(0.92,1)" font-size="8.50" font-weight="normal" text-anchor="middle" fill="#2a2a2a" color="#2a2a2a" >BL/6</text>
<text transform="translate(435,367.8) scale(0.92,1)" font-size="8.50" font-weight="normal" text-anchor="start" fill="#2a2a2a" color="#2a2a2a" >CD19-Cre<tspan font-size="4.2" dy="-4.2">+/-</tspan></text>
<text transform="translate(435,377) scale(0.92,1)" font-size="8.50" font-weight="normal" text-anchor="start" fill="#2a2a2a" color="#2a2a2a" >IFNAR<tspan font-size="4.2" dy="-4.2">flox/flox</tspan></text>
<text transform="translate(478.6,367.8) scale(0.92,1)" font-size="8.50" font-weight="normal" text-anchor="start" fill="#2a2a2a" color="#2a2a2a" >CD4-Cre<tspan font-size="4.2" dy="-4.2">+/-</tspan></text>
<text transform="translate(478.6,377) scale(0.92,1)" font-size="8.50" font-weight="normal" text-anchor="start" fill="#2a2a2a" color="#2a2a2a" >IFNAR<tspan font-size="4.2" dy="-4.2">flox/flox</tspan></text>
<text transform="translate(266.8,409.6) scale(0.91,1)" font-size="8.56" font-weight="bold" text-anchor="middle" fill="#111" color="#111" >Treatment with R-848</text>
<line x1="48" y1="418.3" x2="520" y2="418.3" stroke="#9a9a9a" stroke-width="1"/>
<text transform="translate(145.4,436) scale(0.91,1)" font-size="8.56" font-weight="bold" text-anchor="middle" fill="#111" color="#111" >B cells</text>
<text transform="translate(404,435.4) scale(0.91,1)" font-size="8.56" font-weight="bold" text-anchor="middle" fill="#111" color="#111" >T cells</text>
<text transform="translate(7.8,497.4) rotate(-90) scale(0.93,1)" font-size="8.5" text-anchor="middle" fill="#2a2a2a" color="#2a2a2a">Remaining cells in blood</text>
<line x1="49.2" y1="451.4" x2="49.2" y2="544.5" stroke="#c0c0c0" stroke-width="1"/>
<line x1="49.2" y1="544.5" x2="260" y2="544.5" stroke="#c0c0c0" stroke-width="1"/>
<line x1="47.2" y1="544.50" x2="49.2" y2="544.50" stroke="#c0c0c0" stroke-width="0.8"/>
<text transform="translate(44.2,547.3) scale(0.92,1)" font-size="8.50" font-weight="normal" text-anchor="end" fill="#222" color="#222" >0%</text>
<line x1="47.2" y1="521.23" x2="49.2" y2="521.23" stroke="#c0c0c0" stroke-width="0.8"/>
<text transform="translate(44.2,524.025) scale(0.92,1)" font-size="8.50" font-weight="normal" text-anchor="end" fill="#222" color="#222" >25%</text>
<line x1="47.2" y1="497.95" x2="49.2" y2="497.95" stroke="#c0c0c0" stroke-width="0.8"/>
<text transform="translate(44.2,500.75) scale(0.92,1)" font-size="8.50" font-weight="normal" text-anchor="end" fill="#222" color="#222" >50%</text>
<line x1="47.2" y1="474.67" x2="49.2" y2="474.67" stroke="#c0c0c0" stroke-width="0.8"/>
<text transform="translate(44.2,477.47499999999997) scale(0.92,1)" font-size="8.50" font-weight="normal" text-anchor="end" fill="#222" color="#222" >75%</text>
<line x1="47.2" y1="451.40" x2="49.2" y2="451.40" stroke="#c0c0c0" stroke-width="0.8"/>
<text transform="translate(44.2,454.2) scale(0.92,1)" font-size="8.50" font-weight="normal" text-anchor="end" fill="#222" color="#222" >100%</text>
<line x1="65.6" y1="537.98" x2="65.6" y2="538.91" stroke="#aaa" stroke-width="0.8"/>
<line x1="64.39999999999999" y1="537.98" x2="66.8" y2="537.98" stroke="#aaa" stroke-width="0.8"/>
<rect x="58.8" y="538.91" width="13.600000000000009" height="5.59" fill="#161616"/>
<line x1="98.5" y1="450.47" x2="98.5" y2="473.74" stroke="#aaa" stroke-width="0.8"/>
<line x1="97.3" y1="450.47" x2="99.7" y2="450.47" stroke="#aaa" stroke-width="0.8"/>
<rect x="92" y="473.74" width="13" height="70.76" fill="#161616"/>
<line x1="131.55" y1="513.78" x2="131.55" y2="524.95" stroke="#aaa" stroke-width="0.8"/>
<line x1="130.35000000000002" y1="513.78" x2="132.75" y2="513.78" stroke="#aaa" stroke-width="0.8"/>
<rect x="124.6" y="524.95" width="13.900000000000006" height="19.55" fill="#161616"/>
<line x1="164.95" y1="465.37" x2="164.95" y2="472.81" stroke="#aaa" stroke-width="0.8"/>
<line x1="163.75" y1="465.37" x2="166.14999999999998" y2="465.37" stroke="#aaa" stroke-width="0.8"/>
<rect x="158.5" y="472.81" width="12.900000000000006" height="71.69" fill="#161616"/>
<rect x="208.3" y="536.12" width="13.899999999999977" height="8.38" fill="#161616"/>
<line x1="248.0" y1="524.95" x2="248.0" y2="528.67" stroke="#aaa" stroke-width="0.8"/>
<line x1="246.8" y1="524.95" x2="249.2" y2="524.95" stroke="#aaa" stroke-width="0.8"/>
<rect x="241.5" y="528.67" width="13.0" height="15.83" fill="#161616"/>
<line x1="309.5" y1="451.4" x2="309.5" y2="544.5" stroke="#c0c0c0" stroke-width="1"/>
<line x1="309.5" y1="544.5" x2="520" y2="544.5" stroke="#c0c0c0" stroke-width="1"/>
<line x1="307.5" y1="544.50" x2="309.5" y2="544.50" stroke="#c0c0c0" stroke-width="0.8"/>
<text transform="translate(304.7,547.3) scale(0.92,1)" font-size="8.50" font-weight="normal" text-anchor="end" fill="#222" color="#222" >0%</text>
<line x1="307.5" y1="521.23" x2="309.5" y2="521.23" stroke="#c0c0c0" stroke-width="0.8"/>
<text transform="translate(304.7,524.025) scale(0.92,1)" font-size="8.50" font-weight="normal" text-anchor="end" fill="#222" color="#222" >25%</text>
<line x1="307.5" y1="497.95" x2="309.5" y2="497.95" stroke="#c0c0c0" stroke-width="0.8"/>
<text transform="translate(304.7,500.75) scale(0.92,1)" font-size="8.50" font-weight="normal" text-anchor="end" fill="#222" color="#222" >50%</text>
<line x1="307.5" y1="474.67" x2="309.5" y2="474.67" stroke="#c0c0c0" stroke-width="0.8"/>
<text transform="translate(304.7,477.47499999999997) scale(0.92,1)" font-size="8.50" font-weight="normal" text-anchor="end" fill="#222" color="#222" >75%</text>
<line x1="307.5" y1="451.40" x2="309.5" y2="451.40" stroke="#c0c0c0" stroke-width="0.8"/>
<text transform="translate(304.7,454.2) scale(0.92,1)" font-size="8.50" font-weight="normal" text-anchor="end" fill="#222" color="#222" >100%</text>
<line x1="326.29999999999995" y1="537.52" x2="326.29999999999995" y2="537.98" stroke="#aaa" stroke-width="0.8"/>
<line x1="325.09999999999997" y1="537.52" x2="327.49999999999994" y2="537.52" stroke="#aaa" stroke-width="0.8"/>
<rect x="319.7" y="537.98" width="13.199999999999989" height="6.52" fill="#161616"/>
<line x1="358.85" y1="513.78" x2="358.85" y2="524.02" stroke="#aaa" stroke-width="0.8"/>
<line x1="357.65000000000003" y1="513.78" x2="360.05" y2="513.78" stroke="#aaa" stroke-width="0.8"/>
<rect x="352.1" y="524.02" width="13.5" height="20.48" fill="#161616"/>
<line x1="392.0" y1="462.57" x2="392.0" y2="490.50" stroke="#aaa" stroke-width="0.8"/>
<line x1="390.8" y1="462.57" x2="393.2" y2="462.57" stroke="#aaa" stroke-width="0.8"/>
<rect x="385.4" y="490.50" width="13.200000000000045" height="54.00" fill="#161616"/>
<line x1="424.6" y1="475.61" x2="424.6" y2="485.85" stroke="#aaa" stroke-width="0.8"/>
<line x1="423.40000000000003" y1="475.61" x2="425.8" y2="475.61" stroke="#aaa" stroke-width="0.8"/>
<rect x="418.1" y="485.85" width="13.0" height="58.65" fill="#161616"/>
<rect x="467.7" y="528.67" width="12.900000000000034" height="15.83" fill="#161616"/>
<line x1="505.15" y1="491.43" x2="505.15" y2="502.61" stroke="#aaa" stroke-width="0.8"/>
<line x1="503.95" y1="491.43" x2="506.34999999999997" y2="491.43" stroke="#aaa" stroke-width="0.8"/>
<rect x="498.7" y="502.61" width="12.900000000000034" height="41.89" fill="#161616"/>
<line x1="193" y1="453" x2="193" y2="546.3" stroke="#555" stroke-width="0.75"/>
<line x1="453" y1="453.5" x2="453" y2="545.7" stroke="#555" stroke-width="0.75"/>
<line x1="82.2" y1="544.5" x2="82.2" y2="546.5" stroke="#c0c0c0" stroke-width="0.8"/>
<line x1="115.2" y1="544.5" x2="115.2" y2="546.5" stroke="#c0c0c0" stroke-width="0.8"/>
<line x1="148.2" y1="544.5" x2="148.2" y2="546.5" stroke="#c0c0c0" stroke-width="0.8"/>
<line x1="181.2" y1="544.5" x2="181.2" y2="546.5" stroke="#c0c0c0" stroke-width="0.8"/>
<line x1="214.2" y1="544.5" x2="214.2" y2="546.5" stroke="#c0c0c0" stroke-width="0.8"/>
<line x1="247.2" y1="544.5" x2="247.2" y2="546.5" stroke="#c0c0c0" stroke-width="0.8"/>
<line x1="342.5" y1="544.5" x2="342.5" y2="546.5" stroke="#c0c0c0" stroke-width="0.8"/>
<line x1="375.5" y1="544.5" x2="375.5" y2="546.5" stroke="#c0c0c0" stroke-width="0.8"/>
<line x1="408.5" y1="544.5" x2="408.5" y2="546.5" stroke="#c0c0c0" stroke-width="0.8"/>
<line x1="441.5" y1="544.5" x2="441.5" y2="546.5" stroke="#c0c0c0" stroke-width="0.8"/>
<line x1="474.5" y1="544.5" x2="474.5" y2="546.5" stroke="#c0c0c0" stroke-width="0.8"/>
<line x1="507.5" y1="544.5" x2="507.5" y2="546.5" stroke="#c0c0c0" stroke-width="0.8"/>
<text transform="translate(55.5,560.1) scale(0.92,1)" font-size="8.50" font-weight="normal" text-anchor="start" fill="#2a2a2a" color="#2a2a2a" >BL/6</text>
<text transform="translate(77.6,560.3) scale(0.92,1)" font-size="8.50" font-weight="normal" text-anchor="start" fill="#2a2a2a" color="#2a2a2a" >CD19-Cre<tspan font-size="4.2" dy="-4.2">+/-</tspan></text>
<text transform="translate(77.6,569.5) scale(0.92,1)" font-size="8.50" font-weight="normal" text-anchor="start" fill="#2a2a2a" color="#2a2a2a" >IFNAR<tspan font-size="4.2" dy="-4.2">flox/flox</tspan></text>
<text transform="translate(120.8,560.3) scale(0.92,1)" font-size="8.50" font-weight="normal" text-anchor="start" fill="#2a2a2a" color="#2a2a2a" >CD4-Cre<tspan font-size="4.2" dy="-4.2">+/-</tspan></text>
<text transform="translate(120.8,569.5) scale(0.92,1)" font-size="8.50" font-weight="normal" text-anchor="start" fill="#2a2a2a" color="#2a2a2a" >IFNAR<tspan font-size="4.2" dy="-4.2">flox/flox</tspan></text>
<text transform="translate(160,560.3) scale(0.92,1)" font-size="8.50" font-weight="normal" text-anchor="start" fill="#2a2a2a" color="#2a2a2a" >IFNAR<tspan font-size="4.2" dy="-4.2">-/-</tspan></text>
<text transform="translate(207.7,560.1) scale(0.92,1)" font-size="8.50" font-weight="normal" text-anchor="start" fill="#2a2a2a" color="#2a2a2a" >BL/6</text>
<text transform="translate(237,560.3) scale(0.92,1)" font-size="8.50" font-weight="normal" text-anchor="start" fill="#2a2a2a" color="#2a2a2a" >TNF-α<tspan font-size="4.2" dy="-4.2">-/-</tspan></text>
<text transform="translate(314.6,560.1) scale(0.92,1)" font-size="8.50" font-weight="normal" text-anchor="start" fill="#2a2a2a" color="#2a2a2a" >BL/6</text>
<text transform="translate(337.1,560.3) scale(0.92,1)" font-size="8.50" font-weight="normal" text-anchor="start" fill="#2a2a2a" color="#2a2a2a" >CD19-Cre<tspan font-size="4.2" dy="-4.2">+/-</tspan></text>
<text transform="translate(337.1,569.5) scale(0.92,1)" font-size="8.50" font-weight="normal" text-anchor="start" fill="#2a2a2a" color="#2a2a2a" >IFNAR<tspan font-size="4.2" dy="-4.2">flox/flox</tspan></text>
<text transform="translate(381,560.3) scale(0.92,1)" font-size="8.50" font-weight="normal" text-anchor="start" fill="#2a2a2a" color="#2a2a2a" >CD4-Cre<tspan font-size="4.2" dy="-4.2">+/-</tspan></text>
<text transform="translate(381,569.5) scale(0.92,1)" font-size="8.50" font-weight="normal" text-anchor="start" fill="#2a2a2a" color="#2a2a2a" >IFNAR<tspan font-size="4.2" dy="-4.2">flox/flox</tspan></text>
<text transform="translate(423.6,560.3) scale(0.92,1)" font-size="8.50" font-weight="normal" text-anchor="start" fill="#2a2a2a" color="#2a2a2a" >IFNAR<tspan font-size="4.2" dy="-4.2">-/-</tspan></text>
<text transform="translate(465,560.1) scale(0.92,1)" font-size="8.50" font-weight="normal" text-anchor="start" fill="#2a2a2a" color="#2a2a2a" >BL/6</text>
<text transform="translate(494.1,560.3) scale(0.92,1)" font-size="8.50" font-weight="normal" text-anchor="start" fill="#2a2a2a" color="#2a2a2a" >TNF-α<tspan font-size="4.2" dy="-4.2">-/-</tspan></text>
</svg></body></html>
